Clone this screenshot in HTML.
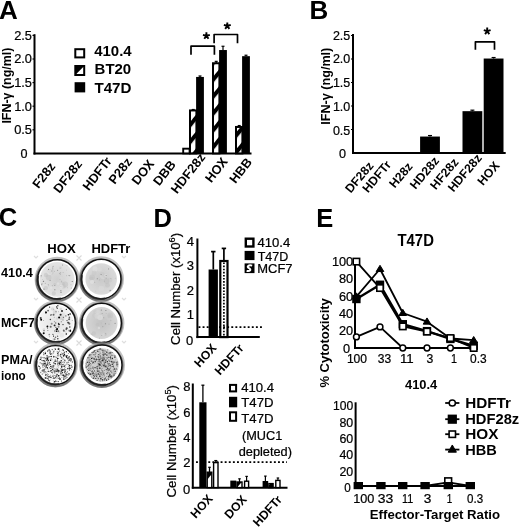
<!DOCTYPE html>
<html><head><meta charset="utf-8"><style>
html,body{margin:0;padding:0;background:#fff;}
svg{display:block;will-change:transform;}
text{font-family:"Liberation Sans", sans-serif;fill:#000;}
text:not([font-weight]){stroke:#000;stroke-width:0.22px;}
</style></head><body>
<svg width="520" height="527" viewBox="0 0 520 527">
<defs>
<pattern id="hatch" patternUnits="userSpaceOnUse" width="10.6" height="10.6" patternTransform="translate(0,3) rotate(-51)">
<rect width="10.6" height="10.6" fill="#fff"/><rect width="10.6" height="4.0" fill="#000"/></pattern>
<pattern id="hatch2" patternUnits="userSpaceOnUse" width="14" height="14" patternTransform="rotate(-50)">
<rect width="14" height="14" fill="#fff"/><rect width="14" height="5" fill="#000"/></pattern>
</defs>
<rect width="520" height="527" fill="#fff"/>
<text x="-1.0" y="18.8" font-size="26" font-weight="bold" text-anchor="start">A</text>
<line x1="34.5" y1="34.2" x2="34.5" y2="154.5" stroke="#000" stroke-width="2"/>
<line x1="33.5" y1="153.5" x2="251.5" y2="153.5" stroke="#000" stroke-width="2"/>
<line x1="32.5" y1="35.400000000000006" x2="34.5" y2="35.400000000000006" stroke="#000" stroke-width="1.2"/>
<text x="32" y="39.800000000000004" font-size="12.6" text-anchor="end" textLength="17.8" lengthAdjust="spacingAndGlyphs">2.5</text>
<line x1="32.5" y1="59.0" x2="34.5" y2="59.0" stroke="#000" stroke-width="1.2"/>
<text x="32" y="63.4" font-size="12.6" text-anchor="end" textLength="17.8" lengthAdjust="spacingAndGlyphs">2.0</text>
<line x1="32.5" y1="82.6" x2="34.5" y2="82.6" stroke="#000" stroke-width="1.2"/>
<text x="32" y="87.0" font-size="12.6" text-anchor="end" textLength="17.8" lengthAdjust="spacingAndGlyphs">1.5</text>
<line x1="32.5" y1="106.2" x2="34.5" y2="106.2" stroke="#000" stroke-width="1.2"/>
<text x="32" y="110.60000000000001" font-size="12.6" text-anchor="end" textLength="17.8" lengthAdjust="spacingAndGlyphs">1.0</text>
<line x1="32.5" y1="129.8" x2="34.5" y2="129.8" stroke="#000" stroke-width="1.2"/>
<text x="32" y="134.20000000000002" font-size="12.6" text-anchor="end" textLength="17.8" lengthAdjust="spacingAndGlyphs">0.5</text>
<text x="27.6" y="157.8" font-size="12.6" text-anchor="end">0</text>
<text transform="translate(11.1,85.6) rotate(-90)" font-size="12" font-weight="bold" text-anchor="middle" textLength="76" lengthAdjust="spacingAndGlyphs">IFN-&#947; (ng/ml)</text>
<rect x="75.3" y="49.2" width="8.9" height="8.2" fill="#fff" stroke="#000" stroke-width="2"/>
<path d="M75.3,66 h8.9 v8.9 h-8.9 z" fill="#fff" stroke="#000" stroke-width="2"/>
<path d="M75.3,66 h8.9 L75.3,74.9 z" fill="#000"/>
<rect x="74.6" y="82.2" width="10.6" height="10.2" fill="#000"/>
<text x="94.2" y="55.6" font-size="14" font-weight="bold" text-anchor="start" textLength="37.5" lengthAdjust="spacingAndGlyphs">410.4</text>
<text x="94.6" y="73.8" font-size="14" font-weight="bold" text-anchor="start" textLength="36.6" lengthAdjust="spacingAndGlyphs">BT20</text>
<text x="94.4" y="93.3" font-size="14" font-weight="bold" text-anchor="start" textLength="37" lengthAdjust="spacingAndGlyphs">T47D</text>
<rect x="183.2" y="148.68" width="6.3999999999999995" height="4.719999999999999" fill="#fff" stroke="#000" stroke-width="1.9"/>
<rect x="190.0" y="110.44800000000001" width="6.3999999999999995" height="42.952" fill="url(#hatch)" stroke="#000" stroke-width="2.0"/>
<line x1="193.20000000000002" y1="110.44800000000001" x2="193.20000000000002" y2="109.50399999999999" stroke="#000" stroke-width="1.2"/>
<line x1="191.70000000000002" y1="109.50399999999999" x2="194.70000000000002" y2="109.50399999999999" stroke="#000" stroke-width="1.2"/>
<rect x="196.1" y="76.93599999999999" width="7.8" height="76.96400000000001" fill="#000"/>
<line x1="200.0" y1="76.93599999999999" x2="200.0" y2="75.992" stroke="#000" stroke-width="1.2"/>
<line x1="198.5" y1="75.992" x2="201.5" y2="75.992" stroke="#000" stroke-width="1.2"/>
<rect x="213.0" y="63.248000000000005" width="6.3999999999999995" height="90.152" fill="url(#hatch)" stroke="#000" stroke-width="2.0"/>
<line x1="216.20000000000002" y1="63.248000000000005" x2="216.20000000000002" y2="61.36" stroke="#000" stroke-width="1.2"/>
<line x1="214.70000000000002" y1="61.36" x2="217.70000000000002" y2="61.36" stroke="#000" stroke-width="1.2"/>
<rect x="219.1" y="50.032" width="7.8" height="103.86800000000001" fill="#000"/>
<line x1="223.0" y1="50.032" x2="223.0" y2="46.256" stroke="#000" stroke-width="1.2"/>
<line x1="221.5" y1="46.256" x2="224.5" y2="46.256" stroke="#000" stroke-width="1.2"/>
<rect x="236.0" y="126.968" width="6.3999999999999995" height="26.432000000000002" fill="url(#hatch)" stroke="#000" stroke-width="2.0"/>
<line x1="239.20000000000002" y1="126.968" x2="239.20000000000002" y2="125.552" stroke="#000" stroke-width="1.2"/>
<line x1="237.70000000000002" y1="125.552" x2="240.70000000000002" y2="125.552" stroke="#000" stroke-width="1.2"/>
<rect x="242.1" y="56.16799999999999" width="7.8" height="97.73200000000001" fill="#000"/>
<line x1="246.0" y1="56.16799999999999" x2="246.0" y2="55.22399999999999" stroke="#000" stroke-width="1.2"/>
<line x1="244.5" y1="55.22399999999999" x2="247.5" y2="55.22399999999999" stroke="#000" stroke-width="1.2"/>
<path d="M191.0,54.8 V46.2 H214.4 V54.8" stroke="#000" stroke-width="1.7" fill="none" stroke-linejoin="round"/>
<path d="M214.1,43.3 V34.5 H237.5 V43.3" stroke="#000" stroke-width="1.7" fill="none" stroke-linejoin="round"/>
<path d="M206.40,35.90 L206.40,32.30 M206.40,35.90 L209.82,34.79 M206.40,35.90 L208.52,38.81 M206.40,35.90 L204.28,38.81 M206.40,35.90 L202.98,34.79 " stroke="#000" stroke-width="1.9" stroke-linecap="butt" fill="none"/>
<path d="M227.30,26.00 L227.30,22.40 M227.30,26.00 L230.72,24.89 M227.30,26.00 L229.42,28.91 M227.30,26.00 L225.18,28.91 M227.30,26.00 L223.88,24.89 " stroke="#000" stroke-width="1.9" stroke-linecap="butt" fill="none"/>
<text transform="translate(43.6,175.1) rotate(-52)" font-size="12.8" font-weight="bold" text-anchor="middle" dy="4.6">F28z</text>
<text transform="translate(67.5,176.2) rotate(-52)" font-size="12.8" font-weight="bold" text-anchor="middle" dy="4.6">DF28z</text>
<text transform="translate(96.9,173.5) rotate(-52)" font-size="12.8" font-weight="bold" text-anchor="middle" dy="4.6">HDFTr</text>
<text transform="translate(120,170.6) rotate(-52)" font-size="12.8" font-weight="bold" text-anchor="middle" dy="4.6">P28z</text>
<text transform="translate(142.6,172) rotate(-52)" font-size="12.8" font-weight="bold" text-anchor="middle" dy="4.6">DOX</text>
<text transform="translate(164.2,172.7) rotate(-52)" font-size="12.8" font-weight="bold" text-anchor="middle" dy="4.6">DBB</text>
<text transform="translate(187.9,173.2) rotate(-52)" font-size="12.8" font-weight="bold" text-anchor="middle" dy="4.6">HDF28z</text>
<text transform="translate(216.2,169.8) rotate(-52)" font-size="12.8" font-weight="bold" text-anchor="middle" dy="4.6">HOX</text>
<text transform="translate(240.4,170.4) rotate(-52)" font-size="12.8" font-weight="bold" text-anchor="middle" dy="4.6">HBB</text>
<text x="309.6" y="18.8" font-size="26" font-weight="bold" text-anchor="start">B</text>
<line x1="353" y1="34" x2="353" y2="154" stroke="#000" stroke-width="2"/>
<line x1="352" y1="153.0" x2="505.7" y2="153.0" stroke="#000" stroke-width="2"/>
<line x1="351" y1="35.5" x2="353" y2="35.5" stroke="#000" stroke-width="1.2"/>
<text x="350.3" y="39.6" font-size="12.6" text-anchor="end" textLength="17.4" lengthAdjust="spacingAndGlyphs">2.5</text>
<line x1="351" y1="59.0" x2="353" y2="59.0" stroke="#000" stroke-width="1.2"/>
<text x="350.3" y="63.35" font-size="12.6" text-anchor="end" textLength="17.4" lengthAdjust="spacingAndGlyphs">2.0</text>
<line x1="351" y1="82.5" x2="353" y2="82.5" stroke="#000" stroke-width="1.2"/>
<text x="350.3" y="87.1" font-size="12.6" text-anchor="end" textLength="17.4" lengthAdjust="spacingAndGlyphs">1.5</text>
<line x1="351" y1="106.0" x2="353" y2="106.0" stroke="#000" stroke-width="1.2"/>
<text x="350.3" y="110.85" font-size="12.6" text-anchor="end" textLength="17.4" lengthAdjust="spacingAndGlyphs">1.0</text>
<line x1="351" y1="129.5" x2="353" y2="129.5" stroke="#000" stroke-width="1.2"/>
<text x="350.3" y="134.6" font-size="12.6" text-anchor="end" textLength="17.4" lengthAdjust="spacingAndGlyphs">0.5</text>
<text x="345.9" y="158.0" font-size="12.6" text-anchor="end">0</text>
<text transform="translate(329.6,86.2) rotate(-90)" font-size="12" font-weight="bold" text-anchor="middle" textLength="77" lengthAdjust="spacingAndGlyphs">IFN-&#947; (ng/ml)</text>
<rect x="420.1" y="136.55" width="19.8" height="16.44999999999999" fill="#000"/>
<line x1="430.0" y1="136.55" x2="430.0" y2="135.55" stroke="#000" stroke-width="1.2"/>
<line x1="428.0" y1="135.55" x2="432.0" y2="135.55" stroke="#000" stroke-width="1.2"/>
<rect x="462.5" y="111.17" width="19.8" height="41.83" fill="#000"/>
<line x1="472.4" y1="111.17" x2="472.4" y2="110.17" stroke="#000" stroke-width="1.2"/>
<line x1="470.4" y1="110.17" x2="474.4" y2="110.17" stroke="#000" stroke-width="1.2"/>
<rect x="483.7" y="58.530000000000015" width="19.8" height="94.46999999999998" fill="#000"/>
<line x1="493.59999999999997" y1="58.530000000000015" x2="493.59999999999997" y2="57.530000000000015" stroke="#000" stroke-width="1.2"/>
<line x1="491.59999999999997" y1="57.530000000000015" x2="495.59999999999997" y2="57.530000000000015" stroke="#000" stroke-width="1.2"/>
<path d="M475.4,49.7 V41.8 H494.5 V49.7" stroke="#000" stroke-width="1.7" fill="none" stroke-linejoin="round"/>
<path d="M487.20,31.20 L487.20,27.60 M487.20,31.20 L490.62,30.09 M487.20,31.20 L489.32,34.11 M487.20,31.20 L485.08,34.11 M487.20,31.20 L483.78,30.09 " stroke="#000" stroke-width="1.9" stroke-linecap="butt" fill="none"/>
<text transform="translate(359.1,177.1) rotate(-50)" font-size="12.3" font-weight="bold" text-anchor="middle" dy="4.4">DF28z</text>
<text transform="translate(376.6,176.5) rotate(-50)" font-size="12.3" font-weight="bold" text-anchor="middle" dy="4.4">HDFTr</text>
<text transform="translate(400.7,175.0) rotate(-50)" font-size="12.3" font-weight="bold" text-anchor="middle" dy="4.4">H28z</text>
<text transform="translate(424.3,172.7) rotate(-50)" font-size="12.3" font-weight="bold" text-anchor="middle" dy="4.4">HD28z</text>
<text transform="translate(444.1,173.7) rotate(-50)" font-size="12.3" font-weight="bold" text-anchor="middle" dy="4.4">HF28z</text>
<text transform="translate(464.5,172.7) rotate(-50)" font-size="12.3" font-weight="bold" text-anchor="middle" dy="4.4">HDF28z</text>
<text transform="translate(488.3,173.3) rotate(-50)" font-size="12.3" font-weight="bold" text-anchor="middle" dy="4.4">HOX</text>
<text x="-1.2" y="226.4" font-size="25.5" font-weight="bold" text-anchor="start">C</text>
<text x="47.3" y="253.3" font-size="12" font-weight="bold" text-anchor="start" textLength="28.4" lengthAdjust="spacingAndGlyphs">HOX</text>
<text x="91.4" y="252.9" font-size="12" font-weight="bold" text-anchor="start" textLength="39" lengthAdjust="spacingAndGlyphs">HDFTr</text>
<text x="1" y="277.3" font-size="12.5" font-weight="bold" text-anchor="start" textLength="31.8" lengthAdjust="spacingAndGlyphs">410.4</text>
<text x="1" y="326.7" font-size="12.5" font-weight="bold" text-anchor="start" textLength="33.8" lengthAdjust="spacingAndGlyphs">MCF7</text>
<text x="1" y="363.7" font-size="12.5" font-weight="bold" text-anchor="start" textLength="31.5" lengthAdjust="spacingAndGlyphs">PMA/</text>
<text x="1" y="379.8" font-size="12.5" font-weight="bold" text-anchor="start" textLength="24.8" lengthAdjust="spacingAndGlyphs">iono</text>
<g stroke="#d0d0d0" stroke-width="1.1" fill="none">
<path d="M76.5,255.5 L79,258 L81.5,255.5 M76.5,260.5 L79,258 L81.5,260.5" opacity="0.8"/>
<path d="M76.5,297.5 L79,300 L81.5,297.5 M76.5,302.5 L79,300 L81.5,302.5" opacity="0.8"/>
<path d="M76.5,340.5 L79,343 L81.5,340.5 M76.5,345.5 L79,343 L81.5,345.5" opacity="0.8"/>
<path d="M34,256 L36,258 L38,256" opacity="0.7"/>
<path d="M34,298 L36,300 L38,298" opacity="0.7"/>
<path d="M34,341 L36,343 L38,341" opacity="0.7"/>
<path d="M122,256 L124,258 L126,256" opacity="0.7"/>
<path d="M122,298 L124,300 L126,298" opacity="0.7"/>
<path d="M122,341 L124,343 L126,341" opacity="0.7"/>
</g>
<radialGradient id="ga"><stop offset="0" stop-color="#cfcfcf"/><stop offset="1" stop-color="#e4e4e4"/></radialGradient>
<circle cx="57.2" cy="279.4" r="21.5" fill="none" stroke="#9a9a9a" stroke-width="2.2" opacity="0.6"/>
<circle cx="56.900000000000006" cy="280.4" r="20.5" fill="none" stroke="#555" stroke-width="2.0" opacity="0.7"/>
<circle cx="57.2" cy="279.4" r="19.6" fill="#fff" stroke="#111" stroke-width="1.45"/>
<circle cx="57.2" cy="279.4" r="17.35" fill="url(#ga)"/>
<circle cx="54.7" cy="284.4" r="1.3" fill="#c0c0c0" opacity="0.5"/>
<circle cx="48.6" cy="277.4" r="2.8" fill="#c0c0c0" opacity="0.5"/>
<circle cx="58.1" cy="283.6" r="1.3" fill="#e8e8e8" opacity="0.5"/>
<circle cx="65.2" cy="284.5" r="2.9" fill="#c0c0c0" opacity="0.5"/>
<circle cx="49.6" cy="271.3" r="2.2" fill="#c0c0c0" opacity="0.5"/>
<circle cx="45.8" cy="288.1" r="2.2" fill="#c0c0c0" opacity="0.5"/>
<circle cx="63.5" cy="286.4" r="2.2" fill="#c0c0c0" opacity="0.5"/>
<circle cx="46.1" cy="275.0" r="2.2" fill="#c0c0c0" opacity="0.5"/>
<circle cx="51.5" cy="272.6" r="2.2" fill="#c0c0c0" opacity="0.5"/>
<circle cx="49.7" cy="272.4" r="2.6" fill="#e8e8e8" opacity="0.5"/>
<circle cx="43.6" cy="282.4" r="1.7" fill="#dcdcdc" opacity="0.5"/>
<circle cx="60.5" cy="267.7" r="1.3" fill="#c8c8c8" opacity="0.5"/>
<circle cx="54.0" cy="289.1" r="2.5" fill="#dcdcdc" opacity="0.5"/>
<circle cx="53.8" cy="293.4" r="2.1" fill="#c0c0c0" opacity="0.5"/>
<circle cx="61.5" cy="286.7" r="2.0" fill="#e8e8e8" opacity="0.5"/>
<circle cx="61.1" cy="278.4" r="1.8" fill="#dcdcdc" opacity="0.5"/>
<circle cx="51.2" cy="287.7" r="1.3" fill="#e8e8e8" opacity="0.5"/>
<circle cx="63.5" cy="283.6" r="1.3" fill="#c0c0c0" opacity="0.5"/>
<circle cx="53.1" cy="266.4" r="0.60" fill="#aaa"/>
<circle cx="54.9" cy="289.7" r="0.50" fill="#666"/>
<circle cx="66.6" cy="275.7" r="0.48" fill="#aaa"/>
<circle cx="71.0" cy="284.8" r="0.34" fill="#888"/>
<circle cx="44.2" cy="289.1" r="0.45" fill="#888"/>
<circle cx="45.3" cy="283.3" r="0.57" fill="#aaa"/>
<circle cx="63.1" cy="272.7" r="0.42" fill="#999"/>
<circle cx="52.9" cy="269.9" r="0.37" fill="#666"/>
<circle cx="60.9" cy="286.7" r="0.37" fill="#aaa"/>
<circle cx="60.7" cy="273.1" r="0.38" fill="#888"/>
<circle cx="48.2" cy="284.4" r="0.47" fill="#888"/>
<circle cx="52.8" cy="268.1" r="0.49" fill="#666"/>
<circle cx="42.0" cy="283.7" r="0.59" fill="#aaa"/>
<circle cx="48.7" cy="285.8" r="0.44" fill="#aaa"/>
<circle cx="61.3" cy="281.1" r="0.36" fill="#888"/>
<circle cx="67.3" cy="287.8" r="0.33" fill="#888"/>
<circle cx="41.1" cy="275.6" r="0.48" fill="#666"/>
<circle cx="66.6" cy="270.0" r="0.34" fill="#999"/>
<circle cx="69.8" cy="275.8" r="0.44" fill="#666"/>
<circle cx="67.0" cy="265.7" r="0.44" fill="#aaa"/>
<circle cx="54.8" cy="285.4" r="0.52" fill="#999"/>
<circle cx="43.2" cy="281.3" r="0.45" fill="#888"/>
<circle cx="68.9" cy="275.7" r="0.34" fill="#666"/>
<circle cx="57.7" cy="270.2" r="0.49" fill="#666"/>
<circle cx="54.3" cy="271.2" r="0.41" fill="#888"/>
<circle cx="52.3" cy="285.7" r="0.46" fill="#999"/>
<circle cx="48.5" cy="269.4" r="0.54" fill="#888"/>
<circle cx="62.5" cy="265.0" r="0.52" fill="#888"/>
<circle cx="60.9" cy="290.7" r="0.52" fill="#666"/>
<circle cx="60.1" cy="268.1" r="0.36" fill="#999"/>
<circle cx="41.7" cy="284.7" r="0.60" fill="#999"/>
<circle cx="61.9" cy="282.0" r="0.44" fill="#999"/>
<circle cx="61.0" cy="292.2" r="0.57" fill="#666"/>
<circle cx="43.6" cy="281.2" r="0.54" fill="#666"/>
<circle cx="60.2" cy="274.3" r="0.42" fill="#888"/>
<circle cx="50.1" cy="280.4" r="0.54" fill="#999"/>
<circle cx="71.3" cy="287.9" r="0.52" fill="#aaa"/>
<circle cx="43.8" cy="289.0" r="0.52" fill="#888"/>
<circle cx="60.0" cy="279.3" r="0.48" fill="#aaa"/>
<circle cx="59.5" cy="273.3" r="0.55" fill="#aaa"/>
<circle cx="51.7" cy="271.0" r="0.46" fill="#888"/>
<circle cx="72.2" cy="281.4" r="0.52" fill="#666"/>
<circle cx="41.1" cy="276.7" r="0.43" fill="#888"/>
<circle cx="60.8" cy="272.5" r="0.38" fill="#999"/>
<circle cx="42.4" cy="279.3" r="0.40" fill="#aaa"/>
<path d="M38.0,275.5 A19.6,19.6 0 0 0 61.1,298.6" fill="none" stroke="#222" stroke-width="2.2" opacity="0.8"/>
<radialGradient id="gb"><stop offset="0" stop-color="#c9c9c9"/><stop offset="1" stop-color="#dadada"/></radialGradient>
<circle cx="101.2" cy="279.1" r="21.7" fill="none" stroke="#9a9a9a" stroke-width="2.2" opacity="0.6"/>
<circle cx="100.9" cy="280.1" r="20.7" fill="none" stroke="#555" stroke-width="2.0" opacity="0.7"/>
<circle cx="101.2" cy="279.1" r="19.8" fill="#fff" stroke="#111" stroke-width="1.45"/>
<circle cx="101.2" cy="279.1" r="15.75" fill="url(#gb)"/>
<circle cx="102.8" cy="276.3" r="2.8" fill="#dcdcdc" opacity="0.5"/>
<circle cx="95.0" cy="269.0" r="2.7" fill="#e8e8e8" opacity="0.5"/>
<circle cx="104.6" cy="275.8" r="2.1" fill="#c8c8c8" opacity="0.5"/>
<circle cx="109.9" cy="280.1" r="2.3" fill="#c8c8c8" opacity="0.5"/>
<circle cx="102.0" cy="274.1" r="2.1" fill="#c8c8c8" opacity="0.5"/>
<circle cx="99.7" cy="269.4" r="2.4" fill="#dcdcdc" opacity="0.5"/>
<circle cx="92.2" cy="277.3" r="2.8" fill="#c0c0c0" opacity="0.5"/>
<circle cx="106.6" cy="281.1" r="2.6" fill="#c0c0c0" opacity="0.5"/>
<circle cx="91.3" cy="278.6" r="2.0" fill="#c0c0c0" opacity="0.5"/>
<circle cx="94.1" cy="273.0" r="2.4" fill="#c8c8c8" opacity="0.5"/>
<circle cx="92.0" cy="281.9" r="2.1" fill="#e8e8e8" opacity="0.5"/>
<circle cx="101.3" cy="288.6" r="2.9" fill="#dcdcdc" opacity="0.5"/>
<circle cx="105.8" cy="275.4" r="1.4" fill="#e8e8e8" opacity="0.5"/>
<circle cx="107.5" cy="285.2" r="2.4" fill="#c0c0c0" opacity="0.5"/>
<circle cx="94.8" cy="282.2" r="0.38" fill="#888"/>
<circle cx="106.0" cy="275.5" r="0.48" fill="#999"/>
<circle cx="110.2" cy="290.4" r="0.54" fill="#888"/>
<circle cx="101.1" cy="274.4" r="0.52" fill="#888"/>
<circle cx="115.2" cy="278.2" r="0.34" fill="#999"/>
<circle cx="110.9" cy="278.7" r="0.41" fill="#999"/>
<circle cx="95.8" cy="291.0" r="0.30" fill="#999"/>
<circle cx="99.3" cy="279.9" r="0.38" fill="#999"/>
<circle cx="97.3" cy="278.8" r="0.55" fill="#888"/>
<circle cx="106.1" cy="278.2" r="0.37" fill="#888"/>
<circle cx="106.6" cy="275.5" r="0.49" fill="#999"/>
<circle cx="108.6" cy="268.9" r="0.54" fill="#999"/>
<circle cx="109.9" cy="291.0" r="0.44" fill="#999"/>
<circle cx="104.3" cy="281.1" r="0.47" fill="#999"/>
<path d="M81.8,275.1 A19.8,19.8 0 0 0 105.2,298.5" fill="none" stroke="#222" stroke-width="2.2" opacity="0.8"/>
<radialGradient id="gc"><stop offset="0" stop-color="#e2e2e2"/><stop offset="1" stop-color="#f4f4f4"/></radialGradient>
<circle cx="56.0" cy="322.6" r="21.299999999999997" fill="none" stroke="#9a9a9a" stroke-width="2.2" opacity="0.6"/>
<circle cx="55.7" cy="323.6" r="20.299999999999997" fill="none" stroke="#555" stroke-width="2.0" opacity="0.7"/>
<circle cx="56.0" cy="322.6" r="19.4" fill="#fff" stroke="#111" stroke-width="1.45"/>
<circle cx="56.0" cy="322.6" r="17.349999999999998" fill="url(#gc)"/>
<circle cx="62.0" cy="318.0" r="2.3" fill="#c0c0c0" opacity="0.5"/>
<circle cx="57.3" cy="318.6" r="1.3" fill="#c8c8c8" opacity="0.5"/>
<circle cx="62.4" cy="315.2" r="3.0" fill="#dcdcdc" opacity="0.5"/>
<circle cx="43.9" cy="329.5" r="1.3" fill="#c8c8c8" opacity="0.5"/>
<circle cx="52.5" cy="309.0" r="1.7" fill="#c8c8c8" opacity="0.5"/>
<circle cx="61.9" cy="335.3" r="2.2" fill="#dcdcdc" opacity="0.5"/>
<circle cx="58.7" cy="331.9" r="1.7" fill="#c8c8c8" opacity="0.5"/>
<circle cx="60.8" cy="308.9" r="1.2" fill="#c0c0c0" opacity="0.5"/>
<circle cx="54.9" cy="311.9" r="2.1" fill="#c8c8c8" opacity="0.5"/>
<circle cx="56.3" cy="332.3" r="2.4" fill="#e8e8e8" opacity="0.5"/>
<circle cx="40.7" cy="318.1" r="1.03" fill="#444"/>
<circle cx="49.6" cy="307.1" r="0.62" fill="#222"/>
<circle cx="47.7" cy="328.2" r="0.44" fill="#222"/>
<circle cx="69.4" cy="323.8" r="0.97" fill="#666"/>
<circle cx="58.6" cy="326.8" r="0.95" fill="#888"/>
<circle cx="51.7" cy="314.7" r="0.56" fill="#444"/>
<circle cx="63.0" cy="324.6" r="0.57" fill="#000"/>
<circle cx="54.6" cy="339.2" r="1.03" fill="#888"/>
<circle cx="54.6" cy="325.4" r="0.97" fill="#222"/>
<circle cx="55.7" cy="323.0" r="0.65" fill="#666"/>
<circle cx="53.5" cy="336.1" r="0.56" fill="#000"/>
<circle cx="68.9" cy="330.9" r="0.49" fill="#888"/>
<circle cx="58.5" cy="323.3" r="0.60" fill="#222"/>
<circle cx="70.3" cy="331.0" r="0.95" fill="#222"/>
<circle cx="48.1" cy="310.6" r="0.97" fill="#666"/>
<circle cx="57.3" cy="308.3" r="0.72" fill="#444"/>
<circle cx="53.8" cy="309.2" r="0.43" fill="#888"/>
<circle cx="45.9" cy="312.2" r="0.93" fill="#222"/>
<circle cx="68.4" cy="314.7" r="0.77" fill="#000"/>
<circle cx="62.0" cy="311.1" r="0.98" fill="#222"/>
<circle cx="59.0" cy="324.4" r="0.81" fill="#000"/>
<circle cx="47.9" cy="330.6" r="0.43" fill="#000"/>
<circle cx="46.2" cy="312.6" r="0.72" fill="#000"/>
<circle cx="51.7" cy="323.8" r="1.01" fill="#888"/>
<circle cx="66.3" cy="329.3" r="0.88" fill="#666"/>
<circle cx="55.9" cy="327.2" r="0.57" fill="#222"/>
<circle cx="57.6" cy="336.2" r="0.70" fill="#666"/>
<circle cx="70.3" cy="330.1" r="0.59" fill="#000"/>
<circle cx="45.9" cy="313.5" r="0.45" fill="#222"/>
<circle cx="49.3" cy="334.5" r="0.85" fill="#888"/>
<circle cx="54.3" cy="321.8" r="0.44" fill="#444"/>
<circle cx="61.3" cy="321.7" r="0.54" fill="#666"/>
<circle cx="52.9" cy="334.4" r="0.70" fill="#666"/>
<circle cx="57.8" cy="305.8" r="0.76" fill="#444"/>
<circle cx="72.2" cy="320.4" r="0.41" fill="#666"/>
<circle cx="66.7" cy="328.2" r="1.05" fill="#444"/>
<circle cx="43.7" cy="333.2" r="1.00" fill="#000"/>
<circle cx="50.4" cy="319.5" r="0.74" fill="#444"/>
<circle cx="66.3" cy="334.0" r="0.73" fill="#000"/>
<circle cx="53.6" cy="314.8" r="0.98" fill="#666"/>
<circle cx="50.7" cy="326.8" r="1.02" fill="#666"/>
<circle cx="44.0" cy="330.7" r="0.67" fill="#666"/>
<circle cx="49.7" cy="336.8" r="0.40" fill="#444"/>
<circle cx="59.1" cy="317.6" r="1.00" fill="#000"/>
<circle cx="63.4" cy="317.3" r="0.64" fill="#666"/>
<circle cx="43.8" cy="332.7" r="0.45" fill="#666"/>
<circle cx="56.6" cy="306.9" r="0.58" fill="#000"/>
<circle cx="60.6" cy="314.8" r="1.01" fill="#222"/>
<circle cx="67.0" cy="320.6" r="0.61" fill="#444"/>
<circle cx="58.4" cy="311.8" r="0.42" fill="#666"/>
<circle cx="70.1" cy="314.1" r="0.76" fill="#000"/>
<circle cx="69.8" cy="327.0" r="0.69" fill="#222"/>
<circle cx="50.4" cy="315.5" r="0.43" fill="#888"/>
<circle cx="64.1" cy="331.0" r="0.62" fill="#444"/>
<circle cx="55.5" cy="337.2" r="0.82" fill="#666"/>
<circle cx="50.8" cy="314.9" r="0.76" fill="#666"/>
<circle cx="65.9" cy="331.9" r="0.45" fill="#888"/>
<circle cx="65.9" cy="315.9" r="0.54" fill="#444"/>
<circle cx="67.4" cy="322.3" r="0.49" fill="#222"/>
<circle cx="56.3" cy="329.7" r="0.76" fill="#444"/>
<circle cx="56.6" cy="331.2" r="0.77" fill="#000"/>
<circle cx="56.0" cy="311.7" r="0.67" fill="#888"/>
<circle cx="58.2" cy="331.1" r="0.89" fill="#666"/>
<circle cx="53.1" cy="339.0" r="0.48" fill="#888"/>
<circle cx="41.2" cy="319.8" r="0.95" fill="#000"/>
<circle cx="54.9" cy="331.0" r="0.66" fill="#666"/>
<circle cx="47.4" cy="326.5" r="0.93" fill="#000"/>
<circle cx="63.7" cy="330.5" r="0.90" fill="#666"/>
<circle cx="67.6" cy="320.3" r="0.45" fill="#888"/>
<circle cx="66.3" cy="309.4" r="0.56" fill="#000"/>
<circle cx="57.1" cy="329.1" r="1.03" fill="#000"/>
<circle cx="69.4" cy="317.4" r="0.82" fill="#666"/>
<circle cx="68.9" cy="330.2" r="0.40" fill="#222"/>
<circle cx="57.8" cy="338.8" r="0.82" fill="#444"/>
<circle cx="69.0" cy="319.5" r="0.74" fill="#666"/>
<circle cx="54.2" cy="317.2" r="0.45" fill="#888"/>
<circle cx="63.0" cy="320.0" r="0.57" fill="#888"/>
<circle cx="68.4" cy="322.7" r="1.05" fill="#444"/>
<circle cx="69.2" cy="319.1" r="0.97" fill="#666"/>
<circle cx="43.6" cy="320.5" r="0.42" fill="#666"/>
<path d="M37.0,318.7 A19.4,19.4 0 0 0 59.9,341.6" fill="none" stroke="#222" stroke-width="2.2" opacity="0.8"/>
<radialGradient id="gd"><stop offset="0" stop-color="#c2c2c2"/><stop offset="1" stop-color="#d6d6d6"/></radialGradient>
<circle cx="101.6" cy="323.0" r="21.7" fill="none" stroke="#9a9a9a" stroke-width="2.2" opacity="0.6"/>
<circle cx="101.3" cy="324.0" r="20.7" fill="none" stroke="#555" stroke-width="2.0" opacity="0.7"/>
<circle cx="101.6" cy="323.0" r="19.8" fill="#fff" stroke="#111" stroke-width="1.45"/>
<circle cx="101.6" cy="323.0" r="15.95" fill="url(#gd)"/>
<circle cx="99.5" cy="315.9" r="1.5" fill="#c0c0c0" opacity="0.5"/>
<circle cx="109.6" cy="315.9" r="1.7" fill="#c0c0c0" opacity="0.5"/>
<circle cx="95.2" cy="311.9" r="2.1" fill="#c8c8c8" opacity="0.5"/>
<circle cx="97.8" cy="312.3" r="2.4" fill="#dcdcdc" opacity="0.5"/>
<circle cx="105.4" cy="334.3" r="1.6" fill="#c0c0c0" opacity="0.5"/>
<circle cx="108.9" cy="321.6" r="1.6" fill="#c8c8c8" opacity="0.5"/>
<circle cx="103.7" cy="334.5" r="1.4" fill="#dcdcdc" opacity="0.5"/>
<circle cx="94.2" cy="315.7" r="2.1" fill="#c8c8c8" opacity="0.5"/>
<circle cx="104.3" cy="321.3" r="2.9" fill="#c8c8c8" opacity="0.5"/>
<circle cx="103.5" cy="323.7" r="1.9" fill="#c8c8c8" opacity="0.5"/>
<circle cx="100.2" cy="317.5" r="2.8" fill="#e8e8e8" opacity="0.5"/>
<circle cx="110.1" cy="315.4" r="2.9" fill="#c0c0c0" opacity="0.5"/>
<circle cx="98.9" cy="328.0" r="1.3" fill="#e8e8e8" opacity="0.5"/>
<circle cx="97.4" cy="315.9" r="3.0" fill="#dcdcdc" opacity="0.5"/>
<circle cx="97.5" cy="324.6" r="1.7" fill="#c0c0c0" opacity="0.5"/>
<circle cx="93.8" cy="333.5" r="2.2" fill="#c0c0c0" opacity="0.5"/>
<circle cx="102.1" cy="313.4" r="0.49" fill="#888"/>
<circle cx="106.1" cy="313.8" r="0.31" fill="#888"/>
<circle cx="105.4" cy="333.8" r="0.41" fill="#888"/>
<circle cx="91.9" cy="334.1" r="0.31" fill="#888"/>
<circle cx="101.8" cy="335.3" r="0.40" fill="#888"/>
<circle cx="105.4" cy="323.8" r="0.53" fill="#888"/>
<circle cx="102.9" cy="326.7" r="0.45" fill="#888"/>
<circle cx="99.5" cy="338.1" r="0.45" fill="#888"/>
<circle cx="101.3" cy="310.1" r="0.53" fill="#888"/>
<circle cx="115.1" cy="323.3" r="0.53" fill="#777"/>
<circle cx="109.0" cy="324.1" r="0.42" fill="#888"/>
<circle cx="110.9" cy="320.2" r="0.36" fill="#888"/>
<circle cx="103.8" cy="317.8" r="0.42" fill="#777"/>
<circle cx="105.9" cy="310.4" r="0.51" fill="#777"/>
<path d="M82.2,319.0 A19.8,19.8 0 0 0 105.6,342.4" fill="none" stroke="#222" stroke-width="2.2" opacity="0.8"/>
<radialGradient id="ge"><stop offset="0" stop-color="#f2f2f2"/><stop offset="1" stop-color="#fafafa"/></radialGradient>
<circle cx="55.6" cy="365.0" r="21.299999999999997" fill="none" stroke="#9a9a9a" stroke-width="2.2" opacity="0.6"/>
<circle cx="55.300000000000004" cy="366.0" r="20.299999999999997" fill="none" stroke="#555" stroke-width="2.0" opacity="0.7"/>
<circle cx="55.6" cy="365.0" r="19.4" fill="#fff" stroke="#111" stroke-width="1.45"/>
<circle cx="55.6" cy="365.0" r="17.549999999999997" fill="url(#ge)"/>
<circle cx="47.9" cy="358.9" r="0.44" fill="#444"/>
<circle cx="58.4" cy="352.1" r="0.53" fill="#666"/>
<circle cx="55.8" cy="356.5" r="0.33" fill="#000"/>
<circle cx="43.0" cy="366.5" r="0.37" fill="#666"/>
<circle cx="68.3" cy="353.6" r="0.42" fill="#000"/>
<circle cx="58.5" cy="375.7" r="0.74" fill="#666"/>
<circle cx="58.5" cy="370.5" r="0.51" fill="#222"/>
<circle cx="55.4" cy="349.2" r="0.60" fill="#000"/>
<circle cx="57.3" cy="355.9" r="0.43" fill="#444"/>
<circle cx="45.3" cy="375.6" r="0.39" fill="#222"/>
<circle cx="58.9" cy="372.7" r="0.43" fill="#888"/>
<circle cx="57.3" cy="369.0" r="0.41" fill="#222"/>
<circle cx="47.4" cy="364.6" r="0.66" fill="#666"/>
<circle cx="61.1" cy="364.7" r="0.51" fill="#222"/>
<circle cx="64.4" cy="351.2" r="0.32" fill="#444"/>
<circle cx="56.0" cy="368.8" r="0.57" fill="#888"/>
<circle cx="57.2" cy="369.4" r="0.53" fill="#222"/>
<circle cx="47.3" cy="367.7" r="0.65" fill="#000"/>
<circle cx="66.0" cy="373.2" r="0.58" fill="#222"/>
<circle cx="65.3" cy="367.3" r="0.32" fill="#444"/>
<circle cx="69.9" cy="368.5" r="0.71" fill="#000"/>
<circle cx="60.2" cy="355.0" r="0.47" fill="#888"/>
<circle cx="52.7" cy="372.2" r="0.66" fill="#888"/>
<circle cx="44.7" cy="366.1" r="0.66" fill="#888"/>
<circle cx="62.7" cy="375.3" r="0.59" fill="#666"/>
<circle cx="51.9" cy="354.7" r="0.43" fill="#444"/>
<circle cx="52.2" cy="366.9" r="0.64" fill="#444"/>
<circle cx="53.6" cy="366.2" r="0.64" fill="#444"/>
<circle cx="49.0" cy="356.6" r="0.48" fill="#000"/>
<circle cx="49.4" cy="367.7" r="0.35" fill="#000"/>
<circle cx="42.2" cy="374.0" r="0.51" fill="#222"/>
<circle cx="58.3" cy="367.8" r="0.36" fill="#666"/>
<circle cx="67.1" cy="372.2" r="0.47" fill="#888"/>
<circle cx="60.4" cy="373.9" r="0.37" fill="#222"/>
<circle cx="60.6" cy="362.4" r="0.52" fill="#222"/>
<circle cx="50.6" cy="379.9" r="0.32" fill="#666"/>
<circle cx="50.3" cy="377.3" r="0.59" fill="#000"/>
<circle cx="66.7" cy="357.4" r="0.67" fill="#222"/>
<circle cx="45.5" cy="352.7" r="0.58" fill="#888"/>
<circle cx="64.5" cy="352.2" r="0.38" fill="#222"/>
<circle cx="71.6" cy="369.3" r="0.37" fill="#444"/>
<circle cx="61.7" cy="371.0" r="0.63" fill="#222"/>
<circle cx="68.0" cy="368.3" r="0.64" fill="#000"/>
<circle cx="50.8" cy="356.5" r="0.48" fill="#666"/>
<circle cx="42.7" cy="360.8" r="0.44" fill="#666"/>
<circle cx="52.5" cy="373.0" r="0.48" fill="#444"/>
<circle cx="44.9" cy="368.7" r="0.31" fill="#888"/>
<circle cx="67.3" cy="364.0" r="0.50" fill="#888"/>
<circle cx="57.8" cy="353.6" r="0.38" fill="#666"/>
<circle cx="52.0" cy="367.6" r="0.46" fill="#444"/>
<circle cx="65.2" cy="371.2" r="0.53" fill="#000"/>
<circle cx="61.6" cy="366.6" r="0.71" fill="#444"/>
<circle cx="57.7" cy="352.9" r="0.32" fill="#888"/>
<circle cx="66.5" cy="356.5" r="0.65" fill="#000"/>
<circle cx="66.3" cy="351.6" r="0.63" fill="#000"/>
<circle cx="61.5" cy="380.9" r="0.52" fill="#222"/>
<circle cx="49.9" cy="351.6" r="0.40" fill="#444"/>
<circle cx="49.0" cy="359.5" r="0.45" fill="#888"/>
<circle cx="53.2" cy="380.3" r="0.36" fill="#888"/>
<circle cx="67.2" cy="362.4" r="0.57" fill="#888"/>
<circle cx="45.9" cy="364.6" r="0.32" fill="#222"/>
<circle cx="44.4" cy="372.8" r="0.43" fill="#444"/>
<circle cx="61.2" cy="360.7" r="0.65" fill="#000"/>
<circle cx="56.0" cy="361.2" r="0.69" fill="#666"/>
<circle cx="43.3" cy="360.6" r="0.70" fill="#000"/>
<circle cx="55.4" cy="377.6" r="0.69" fill="#444"/>
<circle cx="54.0" cy="382.0" r="0.56" fill="#444"/>
<circle cx="53.2" cy="369.3" r="0.40" fill="#888"/>
<circle cx="55.4" cy="361.2" r="0.67" fill="#444"/>
<circle cx="49.4" cy="380.7" r="0.69" fill="#444"/>
<circle cx="54.0" cy="350.3" r="0.40" fill="#444"/>
<circle cx="47.2" cy="357.5" r="0.53" fill="#000"/>
<circle cx="61.1" cy="371.0" r="0.59" fill="#000"/>
<circle cx="67.8" cy="369.3" r="0.44" fill="#888"/>
<circle cx="50.5" cy="371.3" r="0.56" fill="#888"/>
<circle cx="62.5" cy="372.7" r="0.67" fill="#222"/>
<circle cx="66.6" cy="377.4" r="0.41" fill="#222"/>
<circle cx="51.5" cy="366.3" r="0.37" fill="#444"/>
<circle cx="48.4" cy="370.1" r="0.31" fill="#888"/>
<circle cx="65.9" cy="356.7" r="0.56" fill="#888"/>
<circle cx="69.2" cy="359.3" r="0.41" fill="#000"/>
<circle cx="67.6" cy="368.4" r="0.48" fill="#222"/>
<circle cx="64.4" cy="378.8" r="0.35" fill="#888"/>
<circle cx="39.8" cy="359.8" r="0.36" fill="#222"/>
<circle cx="41.9" cy="363.4" r="0.59" fill="#666"/>
<circle cx="58.4" cy="358.4" r="0.44" fill="#444"/>
<circle cx="43.6" cy="352.8" r="0.63" fill="#666"/>
<circle cx="55.3" cy="363.7" r="0.68" fill="#666"/>
<circle cx="67.7" cy="371.7" r="0.38" fill="#000"/>
<circle cx="54.6" cy="378.7" r="0.36" fill="#444"/>
<circle cx="53.5" cy="356.4" r="0.55" fill="#666"/>
<circle cx="49.1" cy="349.9" r="0.74" fill="#444"/>
<circle cx="45.0" cy="351.9" r="0.40" fill="#888"/>
<circle cx="64.3" cy="365.8" r="0.41" fill="#222"/>
<circle cx="69.5" cy="360.0" r="0.45" fill="#666"/>
<circle cx="51.6" cy="372.4" r="0.71" fill="#888"/>
<circle cx="40.2" cy="368.0" r="0.61" fill="#000"/>
<circle cx="42.1" cy="370.6" r="0.56" fill="#444"/>
<circle cx="58.2" cy="354.6" r="0.56" fill="#888"/>
<circle cx="61.1" cy="361.5" r="0.31" fill="#000"/>
<circle cx="50.6" cy="360.2" r="0.74" fill="#000"/>
<circle cx="61.9" cy="366.2" r="0.59" fill="#000"/>
<circle cx="50.8" cy="351.1" r="0.33" fill="#888"/>
<circle cx="56.2" cy="357.4" r="0.73" fill="#888"/>
<circle cx="59.0" cy="362.2" r="0.69" fill="#666"/>
<circle cx="61.7" cy="369.8" r="0.35" fill="#000"/>
<circle cx="71.1" cy="359.9" r="0.64" fill="#000"/>
<circle cx="61.8" cy="352.9" r="0.43" fill="#000"/>
<circle cx="65.9" cy="376.3" r="0.59" fill="#444"/>
<circle cx="50.9" cy="375.1" r="0.31" fill="#444"/>
<circle cx="59.0" cy="363.4" r="0.64" fill="#444"/>
<circle cx="57.2" cy="351.8" r="0.51" fill="#444"/>
<circle cx="53.4" cy="363.0" r="0.49" fill="#666"/>
<circle cx="50.3" cy="364.4" r="0.51" fill="#000"/>
<circle cx="47.8" cy="363.1" r="0.69" fill="#000"/>
<circle cx="47.4" cy="360.9" r="0.50" fill="#888"/>
<circle cx="60.0" cy="379.3" r="0.74" fill="#000"/>
<circle cx="52.5" cy="369.3" r="0.61" fill="#222"/>
<circle cx="68.5" cy="362.3" r="0.73" fill="#888"/>
<circle cx="54.5" cy="381.6" r="0.43" fill="#222"/>
<circle cx="63.2" cy="361.9" r="0.37" fill="#000"/>
<circle cx="38.6" cy="366.0" r="0.55" fill="#000"/>
<circle cx="48.5" cy="357.6" r="0.48" fill="#666"/>
<circle cx="67.1" cy="355.7" r="0.49" fill="#000"/>
<circle cx="49.1" cy="371.8" r="0.49" fill="#888"/>
<circle cx="45.0" cy="364.9" r="0.70" fill="#222"/>
<circle cx="61.3" cy="362.9" r="0.57" fill="#888"/>
<circle cx="49.5" cy="356.9" r="0.45" fill="#222"/>
<circle cx="63.4" cy="356.5" r="0.55" fill="#444"/>
<circle cx="61.1" cy="374.9" r="0.65" fill="#888"/>
<circle cx="56.8" cy="374.8" r="0.59" fill="#222"/>
<circle cx="46.7" cy="364.6" r="0.64" fill="#888"/>
<circle cx="59.4" cy="370.6" r="0.41" fill="#444"/>
<circle cx="47.5" cy="358.9" r="0.41" fill="#222"/>
<circle cx="54.7" cy="381.7" r="0.75" fill="#222"/>
<circle cx="60.9" cy="363.7" r="0.47" fill="#222"/>
<circle cx="59.7" cy="350.9" r="0.50" fill="#222"/>
<circle cx="68.3" cy="375.4" r="0.43" fill="#666"/>
<circle cx="53.7" cy="365.4" r="0.68" fill="#666"/>
<circle cx="51.4" cy="353.6" r="0.58" fill="#666"/>
<circle cx="64.2" cy="366.2" r="0.63" fill="#000"/>
<circle cx="54.7" cy="348.7" r="0.49" fill="#888"/>
<circle cx="43.8" cy="357.8" r="0.68" fill="#888"/>
<circle cx="64.1" cy="353.7" r="0.59" fill="#666"/>
<circle cx="47.6" cy="368.6" r="0.62" fill="#666"/>
<circle cx="56.1" cy="375.8" r="0.62" fill="#222"/>
<circle cx="55.6" cy="376.2" r="0.50" fill="#888"/>
<circle cx="63.4" cy="355.4" r="0.60" fill="#222"/>
<circle cx="63.3" cy="359.0" r="0.30" fill="#666"/>
<circle cx="60.3" cy="361.9" r="0.41" fill="#222"/>
<circle cx="63.7" cy="377.8" r="0.72" fill="#888"/>
<circle cx="46.5" cy="377.9" r="0.51" fill="#222"/>
<circle cx="53.1" cy="353.0" r="0.59" fill="#444"/>
<circle cx="44.7" cy="363.5" r="0.73" fill="#222"/>
<circle cx="62.9" cy="364.6" r="0.53" fill="#000"/>
<circle cx="53.8" cy="351.7" r="0.59" fill="#444"/>
<circle cx="53.9" cy="375.7" r="0.31" fill="#666"/>
<circle cx="67.3" cy="358.1" r="0.60" fill="#888"/>
<circle cx="54.8" cy="373.1" r="0.63" fill="#888"/>
<circle cx="72.4" cy="362.0" r="0.73" fill="#666"/>
<circle cx="57.1" cy="371.0" r="0.65" fill="#222"/>
<circle cx="43.0" cy="367.5" r="0.40" fill="#222"/>
<circle cx="47.3" cy="375.9" r="0.67" fill="#666"/>
<circle cx="46.5" cy="366.9" r="0.55" fill="#222"/>
<circle cx="57.8" cy="353.5" r="0.65" fill="#222"/>
<circle cx="54.5" cy="375.5" r="0.41" fill="#666"/>
<circle cx="50.5" cy="354.3" r="0.66" fill="#444"/>
<circle cx="46.9" cy="375.8" r="0.44" fill="#666"/>
<circle cx="43.3" cy="370.9" r="0.60" fill="#444"/>
<circle cx="61.0" cy="372.7" r="0.47" fill="#000"/>
<circle cx="63.3" cy="350.6" r="0.65" fill="#222"/>
<circle cx="45.7" cy="363.1" r="0.56" fill="#000"/>
<circle cx="56.8" cy="369.5" r="0.43" fill="#888"/>
<circle cx="60.8" cy="368.9" r="0.41" fill="#666"/>
<circle cx="51.8" cy="370.5" r="0.71" fill="#888"/>
<circle cx="63.6" cy="379.1" r="0.57" fill="#000"/>
<circle cx="47.7" cy="350.9" r="0.65" fill="#444"/>
<circle cx="60.2" cy="378.5" r="0.54" fill="#666"/>
<circle cx="52.8" cy="359.8" r="0.35" fill="#666"/>
<circle cx="56.2" cy="371.4" r="0.52" fill="#000"/>
<circle cx="39.4" cy="366.6" r="0.62" fill="#222"/>
<circle cx="43.0" cy="365.1" r="0.69" fill="#000"/>
<circle cx="60.8" cy="373.2" r="0.61" fill="#666"/>
<circle cx="47.6" cy="351.5" r="0.47" fill="#666"/>
<circle cx="69.7" cy="365.0" r="0.38" fill="#444"/>
<circle cx="53.7" cy="362.8" r="0.57" fill="#444"/>
<circle cx="57.5" cy="360.1" r="0.52" fill="#222"/>
<circle cx="69.8" cy="368.1" r="0.58" fill="#444"/>
<circle cx="67.1" cy="372.8" r="0.45" fill="#888"/>
<circle cx="40.2" cy="359.5" r="0.43" fill="#444"/>
<circle cx="44.3" cy="371.0" r="0.67" fill="#444"/>
<circle cx="48.2" cy="374.5" r="0.45" fill="#444"/>
<circle cx="62.6" cy="357.8" r="0.39" fill="#666"/>
<circle cx="58.2" cy="355.5" r="0.44" fill="#444"/>
<circle cx="67.4" cy="377.2" r="0.34" fill="#000"/>
<circle cx="45.3" cy="372.6" r="0.48" fill="#888"/>
<circle cx="64.5" cy="367.9" r="0.30" fill="#222"/>
<circle cx="60.8" cy="354.4" r="0.64" fill="#000"/>
<circle cx="59.6" cy="349.1" r="0.58" fill="#888"/>
<circle cx="64.1" cy="376.2" r="0.61" fill="#000"/>
<circle cx="58.9" cy="378.6" r="0.51" fill="#222"/>
<circle cx="61.5" cy="369.3" r="0.32" fill="#000"/>
<circle cx="67.5" cy="357.9" r="0.47" fill="#222"/>
<circle cx="58.5" cy="352.5" r="0.42" fill="#444"/>
<circle cx="56.9" cy="367.9" r="0.31" fill="#888"/>
<circle cx="45.2" cy="352.1" r="0.32" fill="#888"/>
<circle cx="40.2" cy="362.8" r="0.65" fill="#666"/>
<circle cx="41.0" cy="357.5" r="0.50" fill="#000"/>
<circle cx="50.0" cy="353.0" r="0.75" fill="#222"/>
<circle cx="44.7" cy="366.7" r="0.35" fill="#666"/>
<circle cx="57.2" cy="371.5" r="0.31" fill="#000"/>
<circle cx="69.6" cy="365.8" r="0.74" fill="#000"/>
<circle cx="56.8" cy="370.9" r="0.51" fill="#444"/>
<circle cx="54.0" cy="356.7" r="0.63" fill="#222"/>
<circle cx="64.8" cy="360.2" r="0.64" fill="#222"/>
<circle cx="55.0" cy="360.1" r="0.58" fill="#666"/>
<circle cx="39.5" cy="369.1" r="0.41" fill="#000"/>
<circle cx="55.2" cy="363.2" r="0.31" fill="#888"/>
<circle cx="64.0" cy="369.6" r="0.63" fill="#222"/>
<circle cx="70.7" cy="360.9" r="0.57" fill="#444"/>
<circle cx="46.8" cy="374.6" r="0.50" fill="#222"/>
<circle cx="65.0" cy="377.1" r="0.46" fill="#222"/>
<circle cx="48.0" cy="356.9" r="0.47" fill="#666"/>
<circle cx="69.9" cy="359.8" r="0.56" fill="#444"/>
<circle cx="53.1" cy="378.3" r="0.59" fill="#888"/>
<circle cx="49.0" cy="376.6" r="0.74" fill="#222"/>
<circle cx="47.9" cy="359.3" r="0.49" fill="#222"/>
<circle cx="45.5" cy="374.9" r="0.57" fill="#222"/>
<circle cx="58.8" cy="356.5" r="0.30" fill="#444"/>
<circle cx="54.8" cy="371.8" r="0.71" fill="#000"/>
<circle cx="54.1" cy="371.2" r="0.70" fill="#888"/>
<circle cx="65.8" cy="378.5" r="0.66" fill="#888"/>
<circle cx="49.1" cy="350.0" r="0.46" fill="#000"/>
<circle cx="44.0" cy="362.0" r="0.47" fill="#222"/>
<circle cx="54.1" cy="368.8" r="0.48" fill="#222"/>
<circle cx="67.3" cy="359.1" r="0.30" fill="#666"/>
<circle cx="50.7" cy="366.3" r="0.66" fill="#000"/>
<circle cx="57.0" cy="378.0" r="0.70" fill="#888"/>
<circle cx="50.3" cy="376.0" r="0.39" fill="#222"/>
<circle cx="58.2" cy="371.8" r="0.62" fill="#444"/>
<circle cx="46.5" cy="360.2" r="0.65" fill="#222"/>
<circle cx="56.0" cy="381.5" r="0.52" fill="#000"/>
<circle cx="47.5" cy="373.4" r="0.34" fill="#444"/>
<circle cx="47.3" cy="359.2" r="0.53" fill="#000"/>
<circle cx="62.0" cy="369.3" r="0.69" fill="#888"/>
<circle cx="42.7" cy="366.1" r="0.42" fill="#444"/>
<circle cx="40.7" cy="372.5" r="0.65" fill="#888"/>
<circle cx="64.0" cy="363.0" r="0.32" fill="#222"/>
<circle cx="66.1" cy="364.6" r="0.31" fill="#000"/>
<circle cx="40.6" cy="359.4" r="0.51" fill="#000"/>
<circle cx="64.5" cy="354.6" r="0.71" fill="#000"/>
<circle cx="55.0" cy="377.9" r="0.59" fill="#888"/>
<circle cx="46.6" cy="372.1" r="0.37" fill="#222"/>
<circle cx="63.7" cy="364.6" r="0.32" fill="#444"/>
<circle cx="59.5" cy="363.5" r="0.55" fill="#000"/>
<circle cx="57.5" cy="361.8" r="0.65" fill="#666"/>
<circle cx="61.7" cy="367.2" r="0.64" fill="#222"/>
<circle cx="51.4" cy="356.6" r="0.57" fill="#000"/>
<circle cx="45.3" cy="366.9" r="0.48" fill="#444"/>
<circle cx="48.6" cy="365.8" r="0.41" fill="#222"/>
<circle cx="69.5" cy="356.7" r="0.51" fill="#222"/>
<circle cx="57.7" cy="358.5" r="0.67" fill="#000"/>
<circle cx="70.2" cy="358.6" r="0.70" fill="#222"/>
<circle cx="58.6" cy="348.5" r="0.72" fill="#666"/>
<circle cx="63.0" cy="353.6" r="0.50" fill="#444"/>
<circle cx="51.9" cy="372.4" r="0.35" fill="#444"/>
<circle cx="60.6" cy="371.3" r="0.33" fill="#666"/>
<circle cx="49.4" cy="362.9" r="0.69" fill="#444"/>
<circle cx="48.2" cy="369.2" r="0.31" fill="#888"/>
<circle cx="60.9" cy="356.6" r="0.38" fill="#666"/>
<circle cx="64.6" cy="372.3" r="0.52" fill="#222"/>
<circle cx="59.7" cy="364.5" r="0.70" fill="#222"/>
<circle cx="41.0" cy="359.2" r="0.35" fill="#222"/>
<circle cx="66.7" cy="362.9" r="0.42" fill="#222"/>
<circle cx="60.4" cy="362.6" r="0.43" fill="#222"/>
<circle cx="69.3" cy="370.2" r="0.43" fill="#000"/>
<circle cx="44.2" cy="369.3" r="0.53" fill="#666"/>
<circle cx="71.2" cy="365.2" r="0.54" fill="#222"/>
<circle cx="53.4" cy="367.7" r="0.48" fill="#444"/>
<circle cx="49.9" cy="362.2" r="0.38" fill="#222"/>
<circle cx="53.8" cy="357.6" r="0.34" fill="#000"/>
<circle cx="66.9" cy="355.6" r="0.64" fill="#222"/>
<circle cx="59.3" cy="377.9" r="0.62" fill="#222"/>
<circle cx="48.9" cy="361.2" r="0.33" fill="#888"/>
<circle cx="43.4" cy="373.0" r="0.32" fill="#444"/>
<circle cx="47.6" cy="378.5" r="0.69" fill="#666"/>
<circle cx="64.9" cy="370.9" r="0.64" fill="#222"/>
<circle cx="61.7" cy="358.6" r="0.38" fill="#444"/>
<circle cx="69.6" cy="368.3" r="0.56" fill="#000"/>
<circle cx="45.4" cy="378.0" r="0.74" fill="#000"/>
<circle cx="66.1" cy="375.0" r="0.67" fill="#444"/>
<circle cx="58.5" cy="349.3" r="0.56" fill="#000"/>
<circle cx="54.1" cy="370.4" r="0.63" fill="#666"/>
<circle cx="43.2" cy="364.0" r="0.54" fill="#000"/>
<circle cx="55.8" cy="370.1" r="0.58" fill="#222"/>
<circle cx="62.5" cy="370.2" r="0.67" fill="#000"/>
<circle cx="72.0" cy="367.0" r="0.63" fill="#444"/>
<circle cx="68.8" cy="366.5" r="0.56" fill="#888"/>
<circle cx="56.4" cy="376.4" r="0.46" fill="#000"/>
<circle cx="54.9" cy="361.4" r="0.36" fill="#666"/>
<circle cx="42.8" cy="357.3" r="0.35" fill="#000"/>
<circle cx="50.3" cy="368.5" r="0.57" fill="#222"/>
<circle cx="63.4" cy="375.4" r="0.64" fill="#222"/>
<circle cx="57.8" cy="364.3" r="0.59" fill="#666"/>
<circle cx="44.7" cy="357.4" r="0.32" fill="#000"/>
<circle cx="57.3" cy="355.2" r="0.41" fill="#444"/>
<circle cx="52.2" cy="349.6" r="0.55" fill="#444"/>
<circle cx="61.9" cy="350.5" r="0.32" fill="#888"/>
<circle cx="64.2" cy="376.3" r="0.46" fill="#666"/>
<circle cx="54.6" cy="363.4" r="0.35" fill="#222"/>
<circle cx="65.8" cy="369.8" r="0.53" fill="#000"/>
<circle cx="57.3" cy="376.0" r="0.48" fill="#666"/>
<circle cx="45.3" cy="353.5" r="0.70" fill="#000"/>
<circle cx="69.0" cy="367.9" r="0.42" fill="#888"/>
<circle cx="53.7" cy="377.5" r="0.72" fill="#888"/>
<circle cx="60.4" cy="368.5" r="0.31" fill="#222"/>
<circle cx="64.4" cy="362.2" r="0.44" fill="#222"/>
<circle cx="65.2" cy="374.1" r="0.73" fill="#888"/>
<circle cx="59.7" cy="362.1" r="0.57" fill="#222"/>
<circle cx="44.2" cy="369.5" r="0.70" fill="#666"/>
<circle cx="47.7" cy="360.8" r="0.63" fill="#888"/>
<circle cx="52.9" cy="376.2" r="0.61" fill="#222"/>
<circle cx="51.1" cy="358.8" r="0.62" fill="#666"/>
<circle cx="63.0" cy="359.1" r="0.52" fill="#444"/>
<circle cx="65.3" cy="366.9" r="0.38" fill="#888"/>
<circle cx="45.9" cy="373.8" r="0.31" fill="#444"/>
<circle cx="64.4" cy="379.3" r="0.45" fill="#444"/>
<circle cx="46.5" cy="365.5" r="0.74" fill="#444"/>
<circle cx="58.0" cy="365.9" r="0.55" fill="#888"/>
<circle cx="63.5" cy="356.8" r="0.33" fill="#666"/>
<circle cx="60.8" cy="356.2" r="0.64" fill="#888"/>
<circle cx="58.2" cy="381.6" r="0.63" fill="#222"/>
<circle cx="43.5" cy="372.0" r="0.36" fill="#222"/>
<circle cx="43.8" cy="354.4" r="0.67" fill="#888"/>
<circle cx="68.7" cy="373.9" r="0.71" fill="#666"/>
<circle cx="54.0" cy="378.5" r="0.58" fill="#222"/>
<circle cx="50.9" cy="367.9" r="0.48" fill="#888"/>
<circle cx="45.2" cy="358.8" r="0.73" fill="#888"/>
<circle cx="64.9" cy="377.8" r="0.43" fill="#888"/>
<circle cx="47.3" cy="358.4" r="0.50" fill="#666"/>
<circle cx="53.2" cy="374.9" r="0.46" fill="#888"/>
<circle cx="45.6" cy="361.4" r="0.44" fill="#666"/>
<circle cx="48.7" cy="371.4" r="0.54" fill="#222"/>
<circle cx="45.9" cy="369.1" r="0.40" fill="#444"/>
<circle cx="48.5" cy="379.1" r="0.68" fill="#444"/>
<circle cx="58.8" cy="375.7" r="0.71" fill="#000"/>
<circle cx="64.2" cy="366.4" r="0.70" fill="#444"/>
<circle cx="68.8" cy="357.8" r="0.54" fill="#666"/>
<circle cx="43.3" cy="363.7" r="0.61" fill="#666"/>
<circle cx="52.2" cy="365.8" r="0.60" fill="#666"/>
<circle cx="69.0" cy="360.5" r="0.54" fill="#000"/>
<circle cx="45.4" cy="371.5" r="0.59" fill="#888"/>
<circle cx="59.8" cy="371.1" r="0.49" fill="#666"/>
<circle cx="43.0" cy="370.0" r="0.75" fill="#444"/>
<circle cx="50.3" cy="351.2" r="0.34" fill="#444"/>
<circle cx="48.6" cy="380.4" r="0.67" fill="#888"/>
<circle cx="61.9" cy="377.4" r="0.43" fill="#444"/>
<circle cx="62.9" cy="349.6" r="0.70" fill="#666"/>
<circle cx="47.2" cy="355.9" r="0.67" fill="#222"/>
<circle cx="48.2" cy="364.8" r="0.38" fill="#888"/>
<circle cx="47.5" cy="358.8" r="0.75" fill="#000"/>
<circle cx="55.0" cy="363.3" r="0.30" fill="#888"/>
<circle cx="65.1" cy="365.2" r="0.68" fill="#888"/>
<circle cx="58.5" cy="365.3" r="0.38" fill="#888"/>
<circle cx="41.0" cy="358.5" r="0.70" fill="#888"/>
<circle cx="68.6" cy="364.8" r="0.48" fill="#000"/>
<circle cx="63.1" cy="374.8" r="0.53" fill="#000"/>
<circle cx="61.3" cy="369.2" r="0.54" fill="#666"/>
<circle cx="43.9" cy="355.0" r="0.33" fill="#000"/>
<circle cx="50.4" cy="353.0" r="0.36" fill="#222"/>
<circle cx="51.3" cy="370.6" r="0.42" fill="#000"/>
<circle cx="66.2" cy="352.1" r="0.33" fill="#222"/>
<circle cx="45.5" cy="368.3" r="0.32" fill="#666"/>
<circle cx="41.0" cy="356.7" r="0.50" fill="#888"/>
<circle cx="56.2" cy="373.1" r="0.37" fill="#888"/>
<circle cx="61.5" cy="357.4" r="0.70" fill="#666"/>
<circle cx="51.2" cy="377.6" r="0.73" fill="#666"/>
<circle cx="60.0" cy="364.4" r="0.60" fill="#888"/>
<circle cx="57.3" cy="374.4" r="0.69" fill="#666"/>
<circle cx="71.4" cy="367.2" r="0.34" fill="#222"/>
<circle cx="50.9" cy="370.8" r="0.74" fill="#444"/>
<circle cx="47.4" cy="371.3" r="0.45" fill="#666"/>
<circle cx="48.5" cy="376.9" r="0.73" fill="#666"/>
<circle cx="60.3" cy="356.0" r="0.41" fill="#222"/>
<circle cx="45.7" cy="367.1" r="0.50" fill="#444"/>
<circle cx="50.5" cy="356.4" r="0.37" fill="#222"/>
<circle cx="63.0" cy="369.9" r="0.68" fill="#222"/>
<circle cx="44.6" cy="361.0" r="0.66" fill="#222"/>
<circle cx="61.1" cy="373.6" r="0.63" fill="#666"/>
<circle cx="46.6" cy="355.5" r="0.43" fill="#666"/>
<circle cx="47.4" cy="364.8" r="0.50" fill="#222"/>
<circle cx="71.6" cy="358.9" r="0.57" fill="#666"/>
<circle cx="46.7" cy="359.6" r="0.41" fill="#888"/>
<circle cx="49.5" cy="364.6" r="0.64" fill="#888"/>
<circle cx="68.9" cy="373.6" r="0.63" fill="#666"/>
<circle cx="69.9" cy="367.6" r="0.37" fill="#000"/>
<circle cx="51.7" cy="368.2" r="0.38" fill="#222"/>
<circle cx="49.6" cy="377.6" r="0.35" fill="#888"/>
<circle cx="68.8" cy="357.1" r="0.64" fill="#222"/>
<circle cx="64.4" cy="368.9" r="0.40" fill="#222"/>
<circle cx="60.0" cy="355.1" r="0.46" fill="#666"/>
<circle cx="58.1" cy="349.1" r="0.69" fill="#222"/>
<circle cx="62.2" cy="362.2" r="0.46" fill="#444"/>
<circle cx="57.8" cy="363.4" r="0.62" fill="#666"/>
<circle cx="55.8" cy="380.8" r="0.46" fill="#000"/>
<circle cx="58.0" cy="370.3" r="0.71" fill="#222"/>
<circle cx="54.8" cy="361.6" r="0.32" fill="#222"/>
<circle cx="42.1" cy="371.3" r="0.37" fill="#000"/>
<circle cx="42.7" cy="360.6" r="0.72" fill="#888"/>
<circle cx="62.5" cy="354.0" r="0.62" fill="#444"/>
<circle cx="68.1" cy="358.7" r="0.56" fill="#000"/>
<circle cx="67.0" cy="374.7" r="0.59" fill="#000"/>
<circle cx="64.9" cy="355.7" r="0.61" fill="#222"/>
<circle cx="54.2" cy="362.0" r="0.44" fill="#444"/>
<circle cx="55.6" cy="360.0" r="0.61" fill="#666"/>
<circle cx="69.1" cy="364.8" r="0.40" fill="#888"/>
<circle cx="69.7" cy="373.9" r="0.49" fill="#444"/>
<circle cx="50.3" cy="351.2" r="0.67" fill="#666"/>
<circle cx="41.5" cy="364.2" r="0.39" fill="#888"/>
<circle cx="64.2" cy="352.6" r="0.52" fill="#222"/>
<circle cx="69.4" cy="368.9" r="0.66" fill="#444"/>
<circle cx="58.8" cy="371.2" r="0.65" fill="#222"/>
<circle cx="47.4" cy="362.7" r="0.33" fill="#444"/>
<circle cx="52.6" cy="369.3" r="0.59" fill="#222"/>
<circle cx="65.0" cy="375.9" r="0.60" fill="#222"/>
<circle cx="55.2" cy="363.7" r="0.61" fill="#222"/>
<circle cx="65.0" cy="361.0" r="0.43" fill="#222"/>
<circle cx="48.4" cy="360.6" r="0.58" fill="#000"/>
<circle cx="41.3" cy="360.5" r="0.38" fill="#222"/>
<circle cx="46.1" cy="358.2" r="0.64" fill="#222"/>
<path d="M36.6,361.1 A19.4,19.4 0 0 0 59.5,384.0" fill="none" stroke="#222" stroke-width="2.2" opacity="0.8"/>
<radialGradient id="gf"><stop offset="0" stop-color="#c8c8c8"/><stop offset="1" stop-color="#d8d8d8"/></radialGradient>
<circle cx="102.0" cy="365.0" r="21.9" fill="none" stroke="#9a9a9a" stroke-width="2.2" opacity="0.6"/>
<circle cx="101.7" cy="366.0" r="20.9" fill="none" stroke="#555" stroke-width="2.0" opacity="0.7"/>
<circle cx="102.0" cy="365.0" r="20.0" fill="#fff" stroke="#111" stroke-width="1.45"/>
<circle cx="102.0" cy="365.0" r="16.75" fill="url(#gf)"/>
<circle cx="108.6" cy="370.8" r="0.44" fill="#444"/>
<circle cx="116.9" cy="369.2" r="0.42" fill="#222"/>
<circle cx="98.7" cy="354.6" r="0.35" fill="#666"/>
<circle cx="90.4" cy="369.2" r="0.42" fill="#999"/>
<circle cx="103.5" cy="365.7" r="0.70" fill="#888"/>
<circle cx="114.0" cy="372.0" r="0.69" fill="#999"/>
<circle cx="100.8" cy="378.1" r="0.68" fill="#888"/>
<circle cx="106.4" cy="376.2" r="0.30" fill="#222"/>
<circle cx="94.0" cy="354.8" r="0.67" fill="#666"/>
<circle cx="99.4" cy="361.3" r="0.60" fill="#222"/>
<circle cx="104.3" cy="350.2" r="0.42" fill="#444"/>
<circle cx="113.5" cy="362.2" r="0.66" fill="#444"/>
<circle cx="113.1" cy="373.3" r="0.42" fill="#999"/>
<circle cx="98.7" cy="371.2" r="0.63" fill="#666"/>
<circle cx="102.7" cy="371.0" r="0.67" fill="#666"/>
<circle cx="102.2" cy="368.3" r="0.53" fill="#888"/>
<circle cx="115.2" cy="356.1" r="0.50" fill="#888"/>
<circle cx="100.0" cy="348.8" r="0.54" fill="#222"/>
<circle cx="106.9" cy="371.1" r="0.36" fill="#888"/>
<circle cx="104.8" cy="366.7" r="0.48" fill="#444"/>
<circle cx="104.0" cy="374.8" r="0.31" fill="#999"/>
<circle cx="110.9" cy="353.6" r="0.47" fill="#666"/>
<circle cx="105.5" cy="366.7" r="0.58" fill="#666"/>
<circle cx="103.4" cy="365.6" r="0.68" fill="#444"/>
<circle cx="107.5" cy="361.2" r="0.42" fill="#888"/>
<circle cx="106.5" cy="352.3" r="0.53" fill="#888"/>
<circle cx="110.0" cy="369.7" r="0.48" fill="#999"/>
<circle cx="114.8" cy="356.7" r="0.69" fill="#999"/>
<circle cx="91.3" cy="354.9" r="0.32" fill="#666"/>
<circle cx="95.1" cy="359.4" r="0.53" fill="#666"/>
<circle cx="88.9" cy="366.6" r="0.42" fill="#666"/>
<circle cx="89.2" cy="362.5" r="0.64" fill="#444"/>
<circle cx="97.3" cy="355.1" r="0.33" fill="#999"/>
<circle cx="93.4" cy="374.0" r="0.47" fill="#999"/>
<circle cx="102.7" cy="375.8" r="0.40" fill="#444"/>
<circle cx="108.5" cy="379.0" r="0.52" fill="#222"/>
<circle cx="104.7" cy="379.7" r="0.56" fill="#444"/>
<circle cx="94.0" cy="363.4" r="0.50" fill="#999"/>
<circle cx="90.4" cy="368.1" r="0.58" fill="#999"/>
<circle cx="112.4" cy="358.4" r="0.64" fill="#222"/>
<circle cx="103.9" cy="359.3" r="0.50" fill="#999"/>
<circle cx="98.9" cy="351.1" r="0.35" fill="#999"/>
<circle cx="113.9" cy="373.9" r="0.46" fill="#444"/>
<circle cx="109.0" cy="363.6" r="0.49" fill="#222"/>
<circle cx="111.4" cy="375.9" r="0.32" fill="#444"/>
<circle cx="105.2" cy="366.0" r="0.58" fill="#444"/>
<circle cx="96.5" cy="366.4" r="0.35" fill="#222"/>
<circle cx="90.9" cy="354.5" r="0.53" fill="#666"/>
<circle cx="109.0" cy="377.3" r="0.44" fill="#222"/>
<circle cx="104.6" cy="359.9" r="0.45" fill="#999"/>
<circle cx="115.2" cy="360.5" r="0.32" fill="#999"/>
<circle cx="96.1" cy="372.8" r="0.43" fill="#999"/>
<circle cx="113.9" cy="375.2" r="0.57" fill="#666"/>
<circle cx="93.7" cy="375.8" r="0.31" fill="#999"/>
<circle cx="88.5" cy="370.4" r="0.50" fill="#222"/>
<circle cx="104.2" cy="358.3" r="0.52" fill="#666"/>
<circle cx="111.4" cy="355.5" r="0.63" fill="#999"/>
<circle cx="110.5" cy="356.5" r="0.58" fill="#666"/>
<circle cx="103.8" cy="364.4" r="0.44" fill="#444"/>
<circle cx="90.7" cy="365.9" r="0.31" fill="#222"/>
<circle cx="113.5" cy="370.8" r="0.56" fill="#999"/>
<circle cx="93.2" cy="372.0" r="0.36" fill="#888"/>
<circle cx="90.0" cy="374.5" r="0.54" fill="#222"/>
<circle cx="94.4" cy="374.1" r="0.42" fill="#444"/>
<circle cx="99.1" cy="363.2" r="0.37" fill="#666"/>
<circle cx="100.7" cy="355.7" r="0.49" fill="#666"/>
<circle cx="98.3" cy="373.7" r="0.49" fill="#444"/>
<circle cx="113.0" cy="366.4" r="0.69" fill="#222"/>
<circle cx="92.5" cy="354.8" r="0.36" fill="#888"/>
<circle cx="100.3" cy="376.4" r="0.40" fill="#999"/>
<circle cx="90.8" cy="359.4" r="0.36" fill="#222"/>
<circle cx="115.4" cy="357.1" r="0.34" fill="#444"/>
<circle cx="104.0" cy="352.1" r="0.55" fill="#666"/>
<circle cx="105.8" cy="350.9" r="0.40" fill="#444"/>
<circle cx="98.2" cy="356.8" r="0.61" fill="#666"/>
<circle cx="89.0" cy="364.3" r="0.44" fill="#999"/>
<circle cx="100.0" cy="355.8" r="0.58" fill="#666"/>
<circle cx="112.8" cy="355.3" r="0.50" fill="#444"/>
<circle cx="107.9" cy="349.8" r="0.36" fill="#444"/>
<circle cx="117.2" cy="365.7" r="0.48" fill="#888"/>
<circle cx="90.6" cy="373.7" r="0.67" fill="#999"/>
<circle cx="110.2" cy="368.6" r="0.42" fill="#999"/>
<circle cx="87.0" cy="360.0" r="0.44" fill="#444"/>
<circle cx="98.0" cy="362.7" r="0.37" fill="#999"/>
<circle cx="95.2" cy="373.9" r="0.69" fill="#888"/>
<circle cx="99.2" cy="349.6" r="0.64" fill="#666"/>
<circle cx="108.9" cy="359.9" r="0.40" fill="#222"/>
<circle cx="102.7" cy="352.1" r="0.39" fill="#222"/>
<circle cx="104.0" cy="375.1" r="0.38" fill="#999"/>
<circle cx="99.6" cy="376.3" r="0.34" fill="#444"/>
<circle cx="100.4" cy="349.0" r="0.54" fill="#222"/>
<circle cx="115.2" cy="371.6" r="0.53" fill="#444"/>
<circle cx="110.5" cy="365.3" r="0.56" fill="#222"/>
<circle cx="92.0" cy="352.9" r="0.38" fill="#666"/>
<circle cx="103.8" cy="363.0" r="0.49" fill="#999"/>
<circle cx="97.9" cy="356.4" r="0.32" fill="#888"/>
<circle cx="103.4" cy="360.4" r="0.55" fill="#888"/>
<circle cx="112.3" cy="364.2" r="0.68" fill="#222"/>
<circle cx="111.1" cy="366.5" r="0.56" fill="#666"/>
<circle cx="114.0" cy="369.4" r="0.59" fill="#666"/>
<circle cx="103.2" cy="366.9" r="0.38" fill="#999"/>
<circle cx="102.5" cy="360.1" r="0.63" fill="#888"/>
<circle cx="94.5" cy="376.2" r="0.65" fill="#444"/>
<circle cx="95.0" cy="354.4" r="0.43" fill="#999"/>
<circle cx="101.3" cy="378.8" r="0.61" fill="#666"/>
<circle cx="95.0" cy="355.1" r="0.58" fill="#999"/>
<circle cx="99.9" cy="376.6" r="0.68" fill="#444"/>
<circle cx="101.8" cy="377.2" r="0.34" fill="#666"/>
<circle cx="109.6" cy="375.5" r="0.46" fill="#222"/>
<circle cx="113.9" cy="360.0" r="0.35" fill="#999"/>
<circle cx="89.8" cy="364.9" r="0.37" fill="#999"/>
<circle cx="97.8" cy="369.7" r="0.37" fill="#444"/>
<circle cx="92.5" cy="363.3" r="0.58" fill="#888"/>
<circle cx="113.5" cy="363.7" r="0.55" fill="#666"/>
<circle cx="110.3" cy="359.1" r="0.38" fill="#222"/>
<circle cx="112.9" cy="373.8" r="0.33" fill="#888"/>
<circle cx="97.6" cy="356.4" r="0.39" fill="#888"/>
<circle cx="88.8" cy="373.4" r="0.68" fill="#444"/>
<circle cx="104.3" cy="365.5" r="0.58" fill="#444"/>
<circle cx="102.9" cy="372.3" r="0.60" fill="#666"/>
<circle cx="97.1" cy="380.6" r="0.39" fill="#999"/>
<circle cx="104.9" cy="354.1" r="0.67" fill="#666"/>
<circle cx="107.8" cy="363.3" r="0.42" fill="#222"/>
<circle cx="96.4" cy="374.9" r="0.66" fill="#444"/>
<circle cx="96.6" cy="376.6" r="0.68" fill="#444"/>
<circle cx="88.5" cy="357.7" r="0.38" fill="#666"/>
<circle cx="115.8" cy="369.1" r="0.48" fill="#888"/>
<circle cx="112.7" cy="352.7" r="0.42" fill="#222"/>
<circle cx="104.2" cy="359.0" r="0.67" fill="#444"/>
<circle cx="107.4" cy="361.7" r="0.59" fill="#222"/>
<circle cx="102.1" cy="353.9" r="0.46" fill="#888"/>
<circle cx="93.6" cy="378.3" r="0.59" fill="#666"/>
<circle cx="104.9" cy="364.6" r="0.39" fill="#222"/>
<circle cx="113.3" cy="367.7" r="0.39" fill="#888"/>
<circle cx="97.6" cy="351.8" r="0.32" fill="#666"/>
<circle cx="107.0" cy="367.1" r="0.68" fill="#444"/>
<circle cx="101.2" cy="364.9" r="0.39" fill="#999"/>
<circle cx="110.4" cy="376.3" r="0.50" fill="#222"/>
<circle cx="87.3" cy="362.2" r="0.68" fill="#222"/>
<circle cx="97.6" cy="371.2" r="0.69" fill="#444"/>
<circle cx="101.0" cy="356.5" r="0.37" fill="#666"/>
<circle cx="100.1" cy="381.0" r="0.38" fill="#222"/>
<circle cx="91.8" cy="371.7" r="0.45" fill="#222"/>
<circle cx="100.5" cy="368.0" r="0.48" fill="#666"/>
<circle cx="89.0" cy="360.9" r="0.69" fill="#666"/>
<circle cx="94.6" cy="370.5" r="0.47" fill="#444"/>
<circle cx="94.3" cy="371.6" r="0.46" fill="#444"/>
<circle cx="112.4" cy="357.2" r="0.40" fill="#999"/>
<circle cx="109.4" cy="361.3" r="0.54" fill="#888"/>
<circle cx="116.8" cy="364.2" r="0.57" fill="#222"/>
<circle cx="110.0" cy="352.9" r="0.66" fill="#222"/>
<circle cx="91.9" cy="371.8" r="0.57" fill="#888"/>
<circle cx="93.2" cy="362.2" r="0.69" fill="#222"/>
<circle cx="89.0" cy="367.2" r="0.49" fill="#666"/>
<circle cx="88.4" cy="356.1" r="0.39" fill="#888"/>
<circle cx="99.5" cy="368.3" r="0.69" fill="#666"/>
<circle cx="91.8" cy="356.2" r="0.43" fill="#999"/>
<circle cx="93.9" cy="351.5" r="0.61" fill="#666"/>
<circle cx="111.4" cy="358.9" r="0.59" fill="#999"/>
<circle cx="91.6" cy="358.4" r="0.70" fill="#222"/>
<circle cx="112.7" cy="359.8" r="0.51" fill="#999"/>
<circle cx="106.8" cy="373.6" r="0.57" fill="#444"/>
<circle cx="106.8" cy="355.0" r="0.56" fill="#222"/>
<circle cx="97.7" cy="373.8" r="0.65" fill="#888"/>
<circle cx="106.6" cy="369.5" r="0.40" fill="#222"/>
<circle cx="93.2" cy="375.0" r="0.51" fill="#666"/>
<circle cx="97.4" cy="366.4" r="0.46" fill="#888"/>
<circle cx="98.3" cy="354.7" r="0.49" fill="#444"/>
<circle cx="102.3" cy="358.7" r="0.57" fill="#666"/>
<circle cx="88.7" cy="365.9" r="0.55" fill="#999"/>
<circle cx="96.6" cy="373.5" r="0.31" fill="#444"/>
<circle cx="110.3" cy="365.0" r="0.54" fill="#666"/>
<circle cx="100.3" cy="356.6" r="0.43" fill="#444"/>
<circle cx="101.0" cy="375.8" r="0.51" fill="#888"/>
<circle cx="106.6" cy="359.3" r="0.47" fill="#666"/>
<circle cx="94.6" cy="358.3" r="0.32" fill="#888"/>
<circle cx="99.6" cy="367.4" r="0.60" fill="#888"/>
<circle cx="90.4" cy="370.4" r="0.40" fill="#444"/>
<circle cx="92.7" cy="373.2" r="0.67" fill="#444"/>
<circle cx="116.9" cy="362.9" r="0.53" fill="#222"/>
<circle cx="97.3" cy="356.9" r="0.33" fill="#888"/>
<circle cx="93.4" cy="373.1" r="0.50" fill="#222"/>
<circle cx="111.6" cy="372.7" r="0.67" fill="#888"/>
<circle cx="92.3" cy="370.7" r="0.66" fill="#888"/>
<circle cx="97.2" cy="368.6" r="0.60" fill="#222"/>
<circle cx="95.3" cy="352.7" r="0.46" fill="#222"/>
<circle cx="109.9" cy="361.0" r="0.43" fill="#888"/>
<circle cx="102.7" cy="359.4" r="0.39" fill="#222"/>
<circle cx="100.2" cy="364.1" r="0.50" fill="#444"/>
<circle cx="98.5" cy="363.5" r="0.57" fill="#666"/>
<circle cx="98.2" cy="365.4" r="0.58" fill="#888"/>
<circle cx="105.4" cy="359.9" r="0.46" fill="#222"/>
<circle cx="106.3" cy="360.5" r="0.43" fill="#999"/>
<circle cx="109.0" cy="364.2" r="0.52" fill="#999"/>
<circle cx="101.3" cy="374.1" r="0.40" fill="#666"/>
<circle cx="91.0" cy="361.0" r="0.47" fill="#222"/>
<circle cx="99.2" cy="372.6" r="0.45" fill="#888"/>
<circle cx="107.1" cy="358.5" r="0.38" fill="#222"/>
<circle cx="105.5" cy="377.7" r="0.67" fill="#888"/>
<circle cx="100.5" cy="359.0" r="0.67" fill="#666"/>
<circle cx="106.8" cy="379.9" r="0.52" fill="#222"/>
<circle cx="101.8" cy="363.5" r="0.33" fill="#999"/>
<circle cx="103.4" cy="362.2" r="0.39" fill="#888"/>
<circle cx="98.4" cy="378.3" r="0.62" fill="#999"/>
<circle cx="94.0" cy="358.3" r="0.59" fill="#444"/>
<circle cx="104.8" cy="362.3" r="0.47" fill="#222"/>
<circle cx="116.5" cy="369.6" r="0.33" fill="#999"/>
<circle cx="100.1" cy="365.0" r="0.59" fill="#444"/>
<circle cx="88.6" cy="365.2" r="0.57" fill="#666"/>
<circle cx="105.8" cy="353.7" r="0.36" fill="#444"/>
<circle cx="90.9" cy="363.9" r="0.38" fill="#222"/>
<circle cx="112.0" cy="361.8" r="0.56" fill="#666"/>
<circle cx="99.0" cy="354.5" r="0.47" fill="#222"/>
<circle cx="107.3" cy="362.3" r="0.36" fill="#888"/>
<circle cx="99.9" cy="372.6" r="0.53" fill="#666"/>
<circle cx="98.3" cy="351.6" r="0.42" fill="#666"/>
<circle cx="95.2" cy="378.4" r="0.36" fill="#444"/>
<circle cx="99.7" cy="366.9" r="0.45" fill="#666"/>
<circle cx="104.0" cy="376.9" r="0.34" fill="#888"/>
<circle cx="106.2" cy="370.6" r="0.43" fill="#888"/>
<circle cx="113.2" cy="374.8" r="0.35" fill="#444"/>
<circle cx="117.8" cy="364.6" r="0.51" fill="#666"/>
<circle cx="99.8" cy="365.1" r="0.61" fill="#222"/>
<circle cx="104.6" cy="373.2" r="0.42" fill="#999"/>
<circle cx="97.3" cy="363.8" r="0.36" fill="#666"/>
<circle cx="103.6" cy="350.8" r="0.66" fill="#999"/>
<circle cx="104.6" cy="363.7" r="0.54" fill="#222"/>
<circle cx="93.1" cy="378.2" r="0.56" fill="#222"/>
<circle cx="106.6" cy="373.5" r="0.49" fill="#666"/>
<circle cx="101.7" cy="358.1" r="0.62" fill="#666"/>
<circle cx="107.0" cy="352.0" r="0.48" fill="#999"/>
<circle cx="107.0" cy="369.3" r="0.46" fill="#222"/>
<circle cx="113.5" cy="367.5" r="0.34" fill="#444"/>
<circle cx="89.1" cy="372.6" r="0.33" fill="#444"/>
<circle cx="93.6" cy="375.3" r="0.34" fill="#222"/>
<circle cx="110.4" cy="352.2" r="0.49" fill="#444"/>
<circle cx="101.6" cy="370.3" r="0.40" fill="#444"/>
<circle cx="90.0" cy="365.3" r="0.35" fill="#888"/>
<circle cx="102.3" cy="377.3" r="0.32" fill="#666"/>
<circle cx="97.1" cy="370.4" r="0.46" fill="#444"/>
<circle cx="117.5" cy="363.8" r="0.59" fill="#999"/>
<circle cx="86.6" cy="364.8" r="0.31" fill="#222"/>
<circle cx="87.5" cy="366.1" r="0.53" fill="#444"/>
<circle cx="107.8" cy="368.5" r="0.64" fill="#222"/>
<circle cx="90.5" cy="370.9" r="0.34" fill="#999"/>
<circle cx="105.7" cy="362.0" r="0.53" fill="#444"/>
<circle cx="102.6" cy="379.4" r="0.51" fill="#222"/>
<circle cx="103.9" cy="361.0" r="0.43" fill="#222"/>
<circle cx="114.4" cy="368.3" r="0.58" fill="#666"/>
<circle cx="94.0" cy="377.3" r="0.48" fill="#444"/>
<circle cx="117.8" cy="366.1" r="0.46" fill="#888"/>
<circle cx="116.2" cy="367.9" r="0.36" fill="#999"/>
<circle cx="99.2" cy="359.3" r="0.44" fill="#444"/>
<circle cx="106.5" cy="380.1" r="0.57" fill="#222"/>
<circle cx="116.5" cy="364.8" r="0.49" fill="#888"/>
<circle cx="92.7" cy="363.5" r="0.33" fill="#999"/>
<circle cx="97.2" cy="359.5" r="0.55" fill="#666"/>
<circle cx="103.1" cy="360.2" r="0.59" fill="#666"/>
<circle cx="89.3" cy="357.7" r="0.50" fill="#888"/>
<circle cx="111.8" cy="376.2" r="0.67" fill="#222"/>
<circle cx="101.5" cy="350.1" r="0.62" fill="#999"/>
<circle cx="107.2" cy="373.7" r="0.56" fill="#999"/>
<circle cx="97.1" cy="380.3" r="0.51" fill="#222"/>
<circle cx="115.2" cy="371.0" r="0.62" fill="#444"/>
<circle cx="102.8" cy="377.5" r="0.52" fill="#888"/>
<circle cx="87.9" cy="357.8" r="0.66" fill="#222"/>
<circle cx="90.7" cy="374.1" r="0.62" fill="#666"/>
<circle cx="106.8" cy="355.7" r="0.33" fill="#666"/>
<circle cx="93.9" cy="351.7" r="0.47" fill="#666"/>
<circle cx="113.4" cy="365.3" r="0.31" fill="#222"/>
<circle cx="110.1" cy="357.2" r="0.46" fill="#666"/>
<circle cx="92.9" cy="367.5" r="0.39" fill="#666"/>
<circle cx="93.2" cy="371.9" r="0.31" fill="#666"/>
<circle cx="109.2" cy="369.5" r="0.58" fill="#888"/>
<circle cx="92.0" cy="371.6" r="0.40" fill="#444"/>
<circle cx="100.6" cy="362.0" r="0.63" fill="#444"/>
<circle cx="94.7" cy="371.0" r="0.36" fill="#444"/>
<circle cx="104.5" cy="380.2" r="0.54" fill="#888"/>
<circle cx="98.7" cy="373.6" r="0.65" fill="#999"/>
<circle cx="107.5" cy="378.8" r="0.36" fill="#999"/>
<circle cx="117.1" cy="365.9" r="0.34" fill="#444"/>
<circle cx="87.9" cy="369.1" r="0.40" fill="#666"/>
<circle cx="94.7" cy="350.5" r="0.59" fill="#999"/>
<circle cx="99.0" cy="359.8" r="0.60" fill="#666"/>
<circle cx="99.7" cy="361.1" r="0.55" fill="#888"/>
<circle cx="101.1" cy="373.8" r="0.42" fill="#888"/>
<circle cx="115.6" cy="359.4" r="0.32" fill="#888"/>
<circle cx="88.4" cy="365.6" r="0.31" fill="#222"/>
<circle cx="91.8" cy="361.1" r="0.60" fill="#444"/>
<circle cx="100.1" cy="351.0" r="0.31" fill="#666"/>
<circle cx="100.6" cy="365.2" r="0.67" fill="#666"/>
<circle cx="109.7" cy="374.9" r="0.53" fill="#222"/>
<circle cx="108.8" cy="364.9" r="0.54" fill="#666"/>
<circle cx="96.4" cy="359.2" r="0.61" fill="#222"/>
<circle cx="87.8" cy="372.7" r="0.56" fill="#888"/>
<circle cx="85.9" cy="365.7" r="0.44" fill="#666"/>
<circle cx="95.3" cy="378.3" r="0.50" fill="#222"/>
<circle cx="104.6" cy="355.7" r="0.36" fill="#999"/>
<circle cx="103.4" cy="361.2" r="0.42" fill="#999"/>
<circle cx="106.4" cy="373.0" r="0.32" fill="#666"/>
<circle cx="116.2" cy="362.4" r="0.44" fill="#444"/>
<circle cx="99.8" cy="380.3" r="0.49" fill="#999"/>
<circle cx="97.3" cy="374.8" r="0.34" fill="#666"/>
<circle cx="96.0" cy="372.1" r="0.62" fill="#888"/>
<circle cx="101.2" cy="372.3" r="0.66" fill="#888"/>
<circle cx="91.6" cy="364.9" r="0.36" fill="#666"/>
<circle cx="110.3" cy="367.4" r="0.51" fill="#999"/>
<circle cx="108.1" cy="356.4" r="0.33" fill="#888"/>
<circle cx="91.8" cy="376.9" r="0.51" fill="#666"/>
<circle cx="105.4" cy="360.4" r="0.48" fill="#222"/>
<circle cx="116.4" cy="368.8" r="0.53" fill="#666"/>
<circle cx="94.1" cy="359.1" r="0.69" fill="#222"/>
<circle cx="105.6" cy="361.4" r="0.54" fill="#888"/>
<circle cx="109.0" cy="353.1" r="0.67" fill="#444"/>
<circle cx="92.1" cy="352.3" r="0.55" fill="#222"/>
<circle cx="103.6" cy="354.9" r="0.68" fill="#666"/>
<circle cx="92.6" cy="371.8" r="0.43" fill="#444"/>
<circle cx="100.5" cy="359.0" r="0.59" fill="#888"/>
<circle cx="94.5" cy="351.4" r="0.35" fill="#666"/>
<circle cx="95.5" cy="350.7" r="0.33" fill="#222"/>
<circle cx="110.0" cy="354.3" r="0.53" fill="#888"/>
<circle cx="105.1" cy="378.6" r="0.61" fill="#444"/>
<circle cx="109.8" cy="375.9" r="0.60" fill="#999"/>
<circle cx="108.1" cy="371.1" r="0.31" fill="#888"/>
<circle cx="106.3" cy="360.9" r="0.58" fill="#888"/>
<circle cx="95.5" cy="359.4" r="0.33" fill="#999"/>
<circle cx="92.8" cy="357.9" r="0.54" fill="#444"/>
<circle cx="98.4" cy="374.1" r="0.53" fill="#222"/>
<circle cx="93.3" cy="375.6" r="0.33" fill="#666"/>
<circle cx="104.2" cy="375.8" r="0.61" fill="#888"/>
<circle cx="101.4" cy="368.9" r="0.48" fill="#999"/>
<circle cx="99.6" cy="363.3" r="0.52" fill="#888"/>
<circle cx="108.0" cy="370.0" r="0.55" fill="#666"/>
<circle cx="113.6" cy="362.4" r="0.39" fill="#999"/>
<circle cx="104.0" cy="357.8" r="0.64" fill="#999"/>
<circle cx="99.2" cy="364.3" r="0.61" fill="#222"/>
<circle cx="105.2" cy="357.1" r="0.45" fill="#666"/>
<circle cx="100.0" cy="352.7" r="0.46" fill="#999"/>
<circle cx="112.0" cy="362.1" r="0.57" fill="#222"/>
<circle cx="107.4" cy="349.9" r="0.43" fill="#666"/>
<circle cx="112.2" cy="369.9" r="0.35" fill="#888"/>
<circle cx="117.1" cy="362.0" r="0.55" fill="#444"/>
<circle cx="98.1" cy="371.0" r="0.46" fill="#666"/>
<circle cx="102.3" cy="360.5" r="0.66" fill="#222"/>
<circle cx="95.3" cy="367.7" r="0.58" fill="#444"/>
<circle cx="103.1" cy="357.7" r="0.60" fill="#666"/>
<circle cx="101.8" cy="349.1" r="0.67" fill="#999"/>
<circle cx="101.2" cy="361.0" r="0.38" fill="#222"/>
<circle cx="108.7" cy="353.7" r="0.60" fill="#999"/>
<circle cx="101.2" cy="374.7" r="0.37" fill="#666"/>
<circle cx="111.0" cy="364.5" r="0.32" fill="#444"/>
<circle cx="98.2" cy="355.1" r="0.31" fill="#888"/>
<circle cx="103.4" cy="355.5" r="0.64" fill="#666"/>
<circle cx="103.9" cy="353.9" r="0.70" fill="#666"/>
<circle cx="105.1" cy="354.2" r="0.63" fill="#444"/>
<circle cx="109.0" cy="355.4" r="0.40" fill="#888"/>
<circle cx="104.1" cy="372.9" r="0.31" fill="#444"/>
<circle cx="98.1" cy="349.6" r="0.69" fill="#888"/>
<circle cx="104.1" cy="351.2" r="0.36" fill="#888"/>
<circle cx="103.2" cy="366.4" r="0.39" fill="#999"/>
<circle cx="99.3" cy="364.5" r="0.63" fill="#222"/>
<circle cx="98.7" cy="365.8" r="0.66" fill="#999"/>
<circle cx="115.0" cy="357.2" r="0.44" fill="#999"/>
<circle cx="110.6" cy="357.5" r="0.56" fill="#444"/>
<circle cx="109.4" cy="365.3" r="0.44" fill="#222"/>
<circle cx="114.5" cy="373.9" r="0.68" fill="#888"/>
<circle cx="90.0" cy="368.4" r="0.55" fill="#888"/>
<circle cx="102.9" cy="352.7" r="0.59" fill="#888"/>
<circle cx="108.4" cy="376.5" r="0.64" fill="#444"/>
<circle cx="99.7" cy="354.0" r="0.65" fill="#999"/>
<circle cx="111.8" cy="377.1" r="0.54" fill="#222"/>
<circle cx="97.5" cy="351.1" r="0.66" fill="#222"/>
<circle cx="90.7" cy="374.1" r="0.63" fill="#222"/>
<circle cx="102.7" cy="380.6" r="0.38" fill="#222"/>
<circle cx="105.5" cy="365.9" r="0.40" fill="#444"/>
<circle cx="102.5" cy="361.6" r="0.52" fill="#999"/>
<circle cx="109.3" cy="360.9" r="0.36" fill="#222"/>
<circle cx="86.2" cy="367.1" r="0.60" fill="#222"/>
<circle cx="107.7" cy="378.6" r="0.37" fill="#999"/>
<circle cx="96.8" cy="375.5" r="0.68" fill="#888"/>
<circle cx="102.7" cy="364.6" r="0.64" fill="#999"/>
<circle cx="99.1" cy="361.2" r="0.52" fill="#999"/>
<circle cx="89.9" cy="356.8" r="0.33" fill="#222"/>
<circle cx="95.2" cy="354.1" r="0.48" fill="#222"/>
<circle cx="95.1" cy="362.3" r="0.37" fill="#999"/>
<circle cx="106.2" cy="354.8" r="0.35" fill="#444"/>
<circle cx="94.3" cy="350.7" r="0.55" fill="#222"/>
<circle cx="92.7" cy="362.2" r="0.34" fill="#444"/>
<circle cx="110.8" cy="352.8" r="0.34" fill="#666"/>
<circle cx="100.6" cy="374.0" r="0.42" fill="#888"/>
<circle cx="89.3" cy="355.0" r="0.61" fill="#222"/>
<circle cx="105.0" cy="366.6" r="0.57" fill="#999"/>
<circle cx="104.3" cy="374.9" r="0.69" fill="#999"/>
<circle cx="95.3" cy="361.6" r="0.60" fill="#222"/>
<circle cx="114.8" cy="357.2" r="0.59" fill="#222"/>
<circle cx="99.1" cy="359.7" r="0.66" fill="#222"/>
<circle cx="108.8" cy="379.4" r="0.48" fill="#444"/>
<circle cx="101.9" cy="374.0" r="0.44" fill="#666"/>
<circle cx="97.1" cy="369.4" r="0.37" fill="#888"/>
<circle cx="103.2" cy="350.1" r="0.70" fill="#666"/>
<circle cx="100.8" cy="373.1" r="0.46" fill="#222"/>
<circle cx="95.5" cy="375.2" r="0.44" fill="#666"/>
<circle cx="116.4" cy="365.2" r="0.40" fill="#666"/>
<circle cx="105.3" cy="353.5" r="0.34" fill="#666"/>
<circle cx="93.5" cy="369.3" r="0.33" fill="#222"/>
<circle cx="108.4" cy="363.6" r="0.51" fill="#999"/>
<circle cx="102.5" cy="380.7" r="0.67" fill="#999"/>
<circle cx="96.1" cy="350.1" r="0.34" fill="#444"/>
<circle cx="104.8" cy="378.9" r="0.65" fill="#666"/>
<circle cx="96.9" cy="367.4" r="0.68" fill="#999"/>
<circle cx="89.5" cy="370.1" r="0.58" fill="#666"/>
<circle cx="102.2" cy="356.9" r="0.40" fill="#222"/>
<circle cx="114.8" cy="373.3" r="0.56" fill="#999"/>
<circle cx="114.8" cy="362.1" r="0.54" fill="#222"/>
<circle cx="90.9" cy="357.1" r="0.42" fill="#222"/>
<circle cx="100.5" cy="353.1" r="0.33" fill="#222"/>
<circle cx="105.4" cy="369.3" r="0.50" fill="#999"/>
<circle cx="98.7" cy="357.1" r="0.61" fill="#444"/>
<circle cx="108.7" cy="360.1" r="0.46" fill="#444"/>
<circle cx="88.9" cy="369.7" r="0.34" fill="#888"/>
<circle cx="93.8" cy="377.5" r="0.31" fill="#444"/>
<circle cx="107.9" cy="369.6" r="0.44" fill="#666"/>
<circle cx="101.7" cy="366.6" r="0.38" fill="#222"/>
<circle cx="109.3" cy="376.1" r="0.53" fill="#666"/>
<circle cx="104.6" cy="370.6" r="0.34" fill="#222"/>
<circle cx="92.2" cy="373.9" r="0.53" fill="#444"/>
<circle cx="110.2" cy="368.4" r="0.41" fill="#444"/>
<circle cx="111.0" cy="361.2" r="0.52" fill="#444"/>
<circle cx="111.4" cy="376.1" r="0.40" fill="#666"/>
<circle cx="108.7" cy="376.5" r="0.65" fill="#444"/>
<circle cx="99.8" cy="374.8" r="0.61" fill="#444"/>
<circle cx="92.8" cy="352.6" r="0.61" fill="#666"/>
<circle cx="102.9" cy="380.4" r="0.41" fill="#222"/>
<circle cx="114.7" cy="369.2" r="0.63" fill="#444"/>
<circle cx="99.8" cy="376.0" r="0.49" fill="#222"/>
<circle cx="88.6" cy="368.4" r="0.34" fill="#222"/>
<circle cx="86.4" cy="366.5" r="0.66" fill="#888"/>
<circle cx="96.8" cy="367.1" r="0.33" fill="#666"/>
<circle cx="94.5" cy="367.8" r="0.44" fill="#222"/>
<circle cx="108.9" cy="368.3" r="0.60" fill="#999"/>
<circle cx="89.5" cy="354.5" r="0.67" fill="#888"/>
<circle cx="114.2" cy="375.1" r="0.51" fill="#444"/>
<circle cx="90.4" cy="363.4" r="0.43" fill="#222"/>
<circle cx="109.3" cy="369.2" r="0.67" fill="#888"/>
<circle cx="103.3" cy="359.2" r="0.62" fill="#666"/>
<circle cx="109.1" cy="370.0" r="0.62" fill="#222"/>
<circle cx="113.8" cy="376.1" r="0.49" fill="#444"/>
<circle cx="89.1" cy="364.2" r="0.62" fill="#222"/>
<circle cx="93.6" cy="354.4" r="0.31" fill="#444"/>
<circle cx="103.9" cy="351.8" r="0.36" fill="#666"/>
<circle cx="111.0" cy="376.6" r="0.68" fill="#222"/>
<circle cx="108.2" cy="357.3" r="0.66" fill="#444"/>
<circle cx="101.4" cy="363.1" r="0.48" fill="#222"/>
<circle cx="87.7" cy="369.7" r="0.41" fill="#444"/>
<circle cx="106.8" cy="357.4" r="0.43" fill="#444"/>
<circle cx="111.6" cy="361.2" r="0.57" fill="#222"/>
<circle cx="94.8" cy="373.8" r="0.33" fill="#666"/>
<circle cx="86.1" cy="363.8" r="0.50" fill="#444"/>
<circle cx="96.5" cy="359.8" r="0.63" fill="#444"/>
<circle cx="96.7" cy="378.5" r="0.41" fill="#666"/>
<circle cx="108.8" cy="366.4" r="0.47" fill="#222"/>
<circle cx="89.0" cy="359.0" r="0.40" fill="#222"/>
<circle cx="110.3" cy="377.2" r="0.54" fill="#888"/>
<circle cx="89.2" cy="359.8" r="0.36" fill="#444"/>
<circle cx="94.1" cy="361.7" r="0.47" fill="#444"/>
<circle cx="108.0" cy="364.9" r="0.43" fill="#222"/>
<circle cx="107.3" cy="374.2" r="0.33" fill="#888"/>
<circle cx="104.0" cy="357.0" r="0.53" fill="#444"/>
<circle cx="112.2" cy="352.7" r="0.41" fill="#888"/>
<circle cx="110.9" cy="371.1" r="0.63" fill="#222"/>
<circle cx="105.6" cy="362.5" r="0.60" fill="#444"/>
<circle cx="109.3" cy="357.3" r="0.51" fill="#666"/>
<circle cx="106.6" cy="352.6" r="0.51" fill="#222"/>
<circle cx="91.1" cy="368.8" r="0.51" fill="#666"/>
<circle cx="114.9" cy="355.5" r="0.38" fill="#222"/>
<circle cx="95.1" cy="360.5" r="0.45" fill="#666"/>
<circle cx="95.5" cy="356.8" r="0.68" fill="#666"/>
<circle cx="100.0" cy="361.0" r="0.60" fill="#999"/>
<circle cx="98.9" cy="358.1" r="0.43" fill="#222"/>
<circle cx="93.0" cy="368.2" r="0.60" fill="#444"/>
<circle cx="92.9" cy="367.0" r="0.69" fill="#888"/>
<circle cx="115.7" cy="373.5" r="0.52" fill="#888"/>
<circle cx="117.1" cy="361.3" r="0.39" fill="#666"/>
<circle cx="93.6" cy="372.9" r="0.45" fill="#444"/>
<circle cx="92.2" cy="353.2" r="0.35" fill="#999"/>
<circle cx="108.8" cy="372.9" r="0.47" fill="#222"/>
<circle cx="91.2" cy="367.1" r="0.43" fill="#999"/>
<circle cx="93.5" cy="375.8" r="0.47" fill="#444"/>
<circle cx="107.1" cy="352.4" r="0.57" fill="#444"/>
<circle cx="97.6" cy="368.5" r="0.55" fill="#666"/>
<circle cx="108.7" cy="353.7" r="0.55" fill="#999"/>
<circle cx="109.1" cy="363.5" r="0.61" fill="#666"/>
<circle cx="98.1" cy="359.7" r="0.33" fill="#888"/>
<circle cx="111.0" cy="352.6" r="0.54" fill="#444"/>
<circle cx="112.1" cy="357.4" r="0.46" fill="#999"/>
<circle cx="101.4" cy="369.3" r="0.30" fill="#444"/>
<circle cx="109.0" cy="369.2" r="0.37" fill="#444"/>
<circle cx="100.7" cy="378.7" r="0.69" fill="#222"/>
<circle cx="106.6" cy="365.7" r="0.34" fill="#444"/>
<circle cx="107.6" cy="372.6" r="0.51" fill="#666"/>
<circle cx="98.3" cy="378.7" r="0.65" fill="#666"/>
<circle cx="106.5" cy="366.6" r="0.36" fill="#222"/>
<circle cx="105.4" cy="366.5" r="0.69" fill="#444"/>
<circle cx="105.6" cy="351.5" r="0.44" fill="#888"/>
<circle cx="110.0" cy="374.9" r="0.70" fill="#222"/>
<circle cx="102.1" cy="350.0" r="0.47" fill="#666"/>
<circle cx="100.4" cy="357.3" r="0.62" fill="#888"/>
<circle cx="112.4" cy="372.0" r="0.38" fill="#888"/>
<circle cx="106.8" cy="351.3" r="0.39" fill="#222"/>
<circle cx="107.1" cy="355.0" r="0.47" fill="#222"/>
<circle cx="106.4" cy="376.7" r="0.34" fill="#888"/>
<circle cx="102.5" cy="373.3" r="0.47" fill="#999"/>
<circle cx="100.1" cy="368.4" r="0.39" fill="#222"/>
<circle cx="103.6" cy="373.7" r="0.56" fill="#888"/>
<circle cx="90.3" cy="354.8" r="0.38" fill="#666"/>
<circle cx="117.5" cy="364.5" r="0.35" fill="#222"/>
<circle cx="104.1" cy="379.2" r="0.63" fill="#666"/>
<circle cx="92.6" cy="372.2" r="0.42" fill="#999"/>
<circle cx="98.5" cy="373.1" r="0.43" fill="#444"/>
<circle cx="111.2" cy="377.8" r="0.65" fill="#888"/>
<circle cx="111.1" cy="366.7" r="0.61" fill="#999"/>
<circle cx="111.3" cy="355.1" r="0.49" fill="#666"/>
<circle cx="102.8" cy="359.7" r="0.33" fill="#888"/>
<circle cx="98.1" cy="366.6" r="0.62" fill="#999"/>
<circle cx="103.6" cy="374.1" r="0.49" fill="#888"/>
<circle cx="103.3" cy="355.1" r="0.48" fill="#666"/>
<circle cx="98.1" cy="361.4" r="0.48" fill="#666"/>
<circle cx="112.2" cy="376.2" r="0.68" fill="#999"/>
<circle cx="109.7" cy="373.1" r="0.55" fill="#666"/>
<circle cx="93.7" cy="352.4" r="0.56" fill="#666"/>
<circle cx="97.6" cy="366.8" r="0.46" fill="#222"/>
<circle cx="99.0" cy="351.3" r="0.31" fill="#444"/>
<circle cx="88.6" cy="362.4" r="0.43" fill="#999"/>
<circle cx="93.7" cy="358.7" r="0.40" fill="#888"/>
<circle cx="103.0" cy="354.4" r="0.44" fill="#222"/>
<circle cx="110.6" cy="358.0" r="0.52" fill="#222"/>
<circle cx="101.2" cy="379.0" r="0.66" fill="#888"/>
<circle cx="86.2" cy="367.7" r="0.54" fill="#666"/>
<circle cx="102.6" cy="354.8" r="0.38" fill="#444"/>
<circle cx="101.9" cy="349.4" r="0.50" fill="#999"/>
<circle cx="97.7" cy="371.9" r="0.40" fill="#888"/>
<circle cx="107.3" cy="352.5" r="0.69" fill="#999"/>
<circle cx="99.1" cy="371.1" r="0.60" fill="#666"/>
<circle cx="96.5" cy="352.9" r="0.32" fill="#222"/>
<circle cx="110.1" cy="355.6" r="0.30" fill="#666"/>
<circle cx="89.8" cy="355.4" r="0.68" fill="#666"/>
<circle cx="103.3" cy="374.1" r="0.65" fill="#666"/>
<circle cx="97.9" cy="377.2" r="0.46" fill="#666"/>
<circle cx="108.0" cy="370.0" r="0.66" fill="#888"/>
<circle cx="102.6" cy="350.7" r="0.53" fill="#444"/>
<circle cx="107.4" cy="353.0" r="0.32" fill="#444"/>
<circle cx="102.4" cy="350.3" r="0.40" fill="#666"/>
<circle cx="91.0" cy="375.2" r="0.35" fill="#999"/>
<circle cx="98.9" cy="352.0" r="0.32" fill="#444"/>
<circle cx="110.8" cy="352.5" r="0.36" fill="#999"/>
<circle cx="99.9" cy="362.1" r="0.65" fill="#999"/>
<circle cx="117.8" cy="362.9" r="0.49" fill="#888"/>
<circle cx="105.1" cy="350.1" r="0.39" fill="#666"/>
<circle cx="99.3" cy="368.2" r="0.35" fill="#222"/>
<circle cx="104.1" cy="363.5" r="0.45" fill="#999"/>
<path d="M82.4,361.0 A20.0,20.0 0 0 0 106.0,384.6" fill="none" stroke="#222" stroke-width="2.2" opacity="0.8"/>
<text x="153.6" y="226.5" font-size="25.5" font-weight="bold" text-anchor="start">D</text>
<line x1="197.4" y1="238.5" x2="197.4" y2="338.1" stroke="#000" stroke-width="2"/>
<line x1="196.4" y1="337.1" x2="259.8" y2="337.1" stroke="#000" stroke-width="2"/>
<text x="193.3" y="344.6" font-size="13" text-anchor="end">0</text>
<text x="194.0" y="318.6" font-size="13" text-anchor="end">1</text>
<text x="194.0" y="294.50000000000006" font-size="13" text-anchor="end">2</text>
<text x="194.0" y="270.40000000000003" font-size="13" text-anchor="end">3</text>
<text x="194.0" y="246.3" font-size="13" text-anchor="end">4</text>
<text transform="translate(180.4,288.9) rotate(-90)" font-size="13" text-anchor="middle" textLength="112" lengthAdjust="spacingAndGlyphs">Cell Number (x10<tspan font-size="9" dy="-5">6</tspan><tspan dy="5">)</tspan></text>
<rect x="208.6" y="269.5" width="9.3" height="67.60000000000002" fill="#000"/>
<line x1="213.3" y1="269.5" x2="213.3" y2="251.6" stroke="#000" stroke-width="1.7"/>
<line x1="211.10000000000002" y1="251.6" x2="215.5" y2="251.6" stroke="#000" stroke-width="1.7"/>
<rect x="220.3" y="261" width="7.2" height="76.10000000000002" fill="#fff" stroke="#000" stroke-width="2.2"/>
<line x1="223.9" y1="262.5" x2="223.9" y2="336" stroke="#000" stroke-width="1.7" stroke-dasharray="1.6,1.5"/>
<line x1="223.9" y1="260" x2="223.9" y2="248.4" stroke="#000" stroke-width="1.7"/>
<line x1="221.70000000000002" y1="248.4" x2="226.1" y2="248.4" stroke="#000" stroke-width="1.7"/>
<line x1="198.5" y1="327.2" x2="262" y2="327.2" stroke="#000" stroke-width="1.8" stroke-dasharray="1.9,2.2"/>
<rect x="245.8" y="238.7" width="7.6" height="7.8" fill="#fff" stroke="#000" stroke-width="2.4"/>
<rect x="244.6" y="250.9" width="9.9" height="9.2" fill="#000"/>
<rect x="244.6" y="263.4" width="9.9" height="9.7" fill="#000"/>
<path d="M252.2,265.6 C248.5,264.6 246.2,266.6 249,268.2 C251.6,269.6 250.2,271.6 246.6,270.9" stroke="#fff" stroke-width="2" fill="none"/>
<text x="257.4" y="246.9" font-size="12.2" text-anchor="start" textLength="32.8" lengthAdjust="spacingAndGlyphs">410.4</text>
<text x="257.7" y="260.8" font-size="12.8" text-anchor="start" textLength="30.6" lengthAdjust="spacingAndGlyphs">T47D</text>
<text x="257.3" y="273.2" font-size="12" text-anchor="start" textLength="35.2" lengthAdjust="spacingAndGlyphs">MCF7</text>
<text transform="translate(205.2,355.4) rotate(-48)" font-size="12.2" font-weight="bold" text-anchor="middle" dy="4.3">HOX</text>
<text transform="translate(229.0,359.4) rotate(-48)" font-size="12.2" font-weight="bold" text-anchor="middle" dy="4.3">HDFTr</text>
<line x1="192.8" y1="383.5" x2="192.8" y2="488.6" stroke="#000" stroke-width="2"/>
<line x1="191.8" y1="487.7" x2="287.5" y2="487.7" stroke="#000" stroke-width="2"/>
<text x="190.29999999999998" y="493.70000000000005" font-size="13" text-anchor="end">0</text>
<text x="190.6" y="466.90000000000003" font-size="13" text-anchor="end">2</text>
<text x="190.6" y="441.70000000000005" font-size="13" text-anchor="end">4</text>
<text x="190.6" y="416.5" font-size="13" text-anchor="end">6</text>
<text x="190.6" y="391.3" font-size="13" text-anchor="end">8</text>
<text transform="translate(176,441.3) rotate(-90)" font-size="13.2" text-anchor="middle" textLength="112.5" lengthAdjust="spacingAndGlyphs">Cell Number (x10<tspan font-size="9" dy="-5">5</tspan><tspan dy="5">)</tspan></text>
<rect x="199.3" y="402.3" width="7.2" height="85.30000000000001" fill="#000"/>
<line x1="202.9" y1="402.3" x2="202.9" y2="385.2" stroke="#000" stroke-width="1.3"/>
<line x1="201.4" y1="385.2" x2="204.4" y2="385.2" stroke="#000" stroke-width="1.3"/>
<rect x="207.2" y="472.2" width="4.6" height="15.400000000000034" fill="url(#hatch2)" stroke="#000" stroke-width="1.4"/>
<line x1="209.5" y1="472.2" x2="209.5" y2="467.3" stroke="#000" stroke-width="1.3"/>
<line x1="208.25" y1="467.3" x2="210.75" y2="467.3" stroke="#000" stroke-width="1.3"/>
<rect x="213.6" y="462.6" width="4.4" height="25.0" fill="#fff" stroke="#000" stroke-width="1.4"/>
<line x1="215.8" y1="462.6" x2="215.8" y2="460.6" stroke="#000" stroke-width="1.3"/>
<line x1="214.3" y1="460.6" x2="217.3" y2="460.6" stroke="#000" stroke-width="1.3"/>
<rect x="230.3" y="480.6" width="6.0" height="7.0" fill="#000"/>
<rect x="237.0" y="482.0" width="5.0" height="5.600000000000023" fill="url(#hatch2)" stroke="#000" stroke-width="1.4"/>
<line x1="239.5" y1="482" x2="239.5" y2="478.8" stroke="#000" stroke-width="1.2"/>
<line x1="238.25" y1="478.8" x2="240.75" y2="478.8" stroke="#000" stroke-width="1.2"/>
<rect x="244.6" y="481.2" width="4.0" height="6.400000000000034" fill="#fff" stroke="#000" stroke-width="1.4"/>
<line x1="246.6" y1="481.2" x2="246.6" y2="476.4" stroke="#000" stroke-width="1.2"/>
<line x1="245.35" y1="476.4" x2="247.85" y2="476.4" stroke="#000" stroke-width="1.2"/>
<rect x="262.6" y="481.0" width="5.6" height="6.600000000000023" fill="#000"/>
<line x1="265.4" y1="481" x2="265.4" y2="476.1" stroke="#000" stroke-width="1.2"/>
<line x1="264.15" y1="476.1" x2="266.65" y2="476.1" stroke="#000" stroke-width="1.2"/>
<rect x="268.9" y="483.6" width="4.2" height="4.0" fill="url(#hatch2)" stroke="#000" stroke-width="1.4"/>
<rect x="275.8" y="480.4" width="4.2" height="7.2000000000000455" fill="#fff" stroke="#000" stroke-width="1.4"/>
<line x1="277.9" y1="480.4" x2="277.9" y2="478.0" stroke="#000" stroke-width="1.2"/>
<line x1="276.65" y1="478.0" x2="279.15" y2="478.0" stroke="#000" stroke-width="1.2"/>
<line x1="196" y1="462.2" x2="287" y2="462.2" stroke="#000" stroke-width="1.8" stroke-dasharray="1.9,2.2"/>
<rect x="230" y="384.9" width="6.1" height="6.5" fill="#fff" stroke="#000" stroke-width="2"/>
<rect x="229" y="396.8" width="8.2" height="10.5" fill="#000"/>
<rect x="230" y="412.3" width="6.1" height="8.5" fill="#fff" stroke="#000" stroke-width="2"/>
<text x="241.2" y="391.8" font-size="12.2" text-anchor="start" textLength="32.8" lengthAdjust="spacingAndGlyphs">410.4</text>
<text x="241.3" y="407.4" font-size="12.2" text-anchor="start" textLength="32.2" lengthAdjust="spacingAndGlyphs">T47D</text>
<text x="241.3" y="423.0" font-size="12.2" text-anchor="start" textLength="32.2" lengthAdjust="spacingAndGlyphs">T47D</text>
<text x="242" y="439.8" font-size="12" text-anchor="start" textLength="40.3" lengthAdjust="spacingAndGlyphs">(MUC1</text>
<text x="238.7" y="455.5" font-size="12" text-anchor="start" textLength="53.2" lengthAdjust="spacingAndGlyphs">depleted)</text>
<text transform="translate(201.4,506.2) rotate(-48)" font-size="12.2" font-weight="bold" text-anchor="middle" dy="4.3">HOX</text>
<text transform="translate(235.5,506.8) rotate(-48)" font-size="12.2" font-weight="bold" text-anchor="middle" dy="4.3">DOX</text>
<text transform="translate(267.3,510.8) rotate(-48)" font-size="12.2" font-weight="bold" text-anchor="middle" dy="4.3">HDFTr</text>
<text x="316.3" y="226.9" font-size="25.5" font-weight="bold" text-anchor="start">E</text>
<text x="397.5" y="245.8" font-size="15.6" font-weight="bold" text-anchor="start" textLength="36.4" lengthAdjust="spacingAndGlyphs">T47D</text>
<line x1="355.0" y1="258.5" x2="355.0" y2="349.0" stroke="#000" stroke-width="2"/>
<line x1="354.0" y1="348.0" x2="473.7" y2="348.0" stroke="#000" stroke-width="2"/>
<text x="353.2" y="266.1" font-size="12.3" text-anchor="end" textLength="21.3" lengthAdjust="spacingAndGlyphs">100</text>
<text x="353.2" y="283.38" font-size="12.3" text-anchor="end" textLength="14.2" lengthAdjust="spacingAndGlyphs">80</text>
<text x="353.2" y="300.66" font-size="12.3" text-anchor="end" textLength="14.2" lengthAdjust="spacingAndGlyphs">60</text>
<text x="353.2" y="317.94" font-size="12.3" text-anchor="end" textLength="14.2" lengthAdjust="spacingAndGlyphs">40</text>
<text x="353.2" y="335.22" font-size="12.3" text-anchor="end" textLength="14.2" lengthAdjust="spacingAndGlyphs">20</text>
<text x="350.0" y="352.5" font-size="12.3" text-anchor="end" textLength="7.1" lengthAdjust="spacingAndGlyphs">0</text>
<text x="357.0" y="363.2" font-size="12.3" text-anchor="middle" textLength="20.2" lengthAdjust="spacingAndGlyphs">100</text>
<text x="384.4" y="363.2" font-size="12.3" text-anchor="middle" textLength="13.4" lengthAdjust="spacingAndGlyphs">33</text>
<text x="406.8" y="363.2" font-size="12.3" text-anchor="middle" textLength="13.8" lengthAdjust="spacingAndGlyphs">11</text>
<text x="429.8" y="363.2" font-size="12.3" text-anchor="middle" textLength="6.8" lengthAdjust="spacingAndGlyphs">3</text>
<text x="454.0" y="363.2" font-size="12.3" text-anchor="middle" textLength="6.0" lengthAdjust="spacingAndGlyphs">1</text>
<text x="478.3" y="363.2" font-size="12.3" text-anchor="middle" textLength="16.6" lengthAdjust="spacingAndGlyphs">0.3</text>
<polyline points="356.40,336.94 380.00,326.92 402.80,348.00 427.00,348.00 450.40,348.00 473.70,348.00" fill="none" stroke="#000" stroke-width="1.8" stroke-linejoin="round"/>
<polyline points="356.40,296.59 380.00,269.03 402.80,313.01 427.00,321.65 450.40,338.50 473.70,340.22" fill="none" stroke="#000" stroke-width="1.8" stroke-linejoin="round"/>
<polyline points="356.40,299.01 380.00,284.76 402.80,324.24 427.00,331.15 450.40,338.93 473.70,345.84" fill="none" stroke="#000" stroke-width="2.4" stroke-linejoin="round"/>
<polyline points="356.40,261.60 380.00,288.04 402.80,326.40 427.00,331.58 450.40,338.06 473.70,348.00" fill="none" stroke="#000" stroke-width="1.8" stroke-linejoin="round"/>
<circle cx="356.40" cy="336.94" r="2.9" fill="#fff" stroke="#000" stroke-width="1.5"/>
<circle cx="380.00" cy="326.92" r="2.9" fill="#fff" stroke="#000" stroke-width="1.5"/>
<circle cx="402.80" cy="348.00" r="2.9" fill="#fff" stroke="#000" stroke-width="1.5"/>
<circle cx="427.00" cy="348.00" r="2.9" fill="#fff" stroke="#000" stroke-width="1.5"/>
<circle cx="450.40" cy="348.00" r="2.9" fill="#fff" stroke="#000" stroke-width="1.5"/>
<circle cx="473.70" cy="348.00" r="2.9" fill="#fff" stroke="#000" stroke-width="1.5"/>
<path d="M356.40,292.87 L360.20,299.07 L352.60,299.07 Z" fill="#000" stroke="#000" stroke-width="1" stroke-linejoin="miter"/>
<path d="M380.00,265.31 L383.80,271.51 L376.20,271.51 Z" fill="#000" stroke="#000" stroke-width="1" stroke-linejoin="miter"/>
<path d="M402.80,309.29 L406.60,315.49 L399.00,315.49 Z" fill="#000" stroke="#000" stroke-width="1" stroke-linejoin="miter"/>
<path d="M427.00,317.93 L430.80,324.13 L423.20,324.13 Z" fill="#000" stroke="#000" stroke-width="1" stroke-linejoin="miter"/>
<path d="M450.40,334.78 L454.20,340.98 L446.60,340.98 Z" fill="#000" stroke="#000" stroke-width="1" stroke-linejoin="miter"/>
<path d="M473.70,336.50 L477.50,342.70 L469.90,342.70 Z" fill="#000" stroke="#000" stroke-width="1" stroke-linejoin="miter"/>
<rect x="353.00" y="295.61" width="6.8" height="6.8" fill="#000" stroke="#000" stroke-width="1.6"/>
<rect x="376.60" y="281.36" width="6.8" height="6.8" fill="#000" stroke="#000" stroke-width="1.6"/>
<rect x="399.40" y="320.84" width="6.8" height="6.8" fill="#000" stroke="#000" stroke-width="1.6"/>
<rect x="423.60" y="327.75" width="6.8" height="6.8" fill="#000" stroke="#000" stroke-width="1.6"/>
<rect x="447.00" y="335.53" width="6.8" height="6.8" fill="#000" stroke="#000" stroke-width="1.6"/>
<rect x="470.30" y="342.44" width="6.8" height="6.8" fill="#000" stroke="#000" stroke-width="1.6"/>
<rect x="353.20" y="258.40" width="6.4" height="6.4" fill="#fff" stroke="#000" stroke-width="1.6"/>
<rect x="376.80" y="284.84" width="6.4" height="6.4" fill="#fff" stroke="#000" stroke-width="1.6"/>
<rect x="399.60" y="323.20" width="6.4" height="6.4" fill="#fff" stroke="#000" stroke-width="1.6"/>
<rect x="423.80" y="328.38" width="6.4" height="6.4" fill="#fff" stroke="#000" stroke-width="1.6"/>
<rect x="447.20" y="334.86" width="6.4" height="6.4" fill="#fff" stroke="#000" stroke-width="1.6"/>
<rect x="470.50" y="344.80" width="6.4" height="6.4" fill="#fff" stroke="#000" stroke-width="1.6"/>
<text transform="translate(329.2,342.9) rotate(-90)" font-size="13" font-weight="bold" text-anchor="middle" textLength="89.4" lengthAdjust="spacingAndGlyphs">% Cytotoxicity</text>
<text x="405" y="389" font-size="12.5" font-weight="bold" text-anchor="start" textLength="32.3" lengthAdjust="spacingAndGlyphs">410.4</text>
<line x1="355.6" y1="402.3" x2="355.6" y2="486.5" stroke="#000" stroke-width="2"/>
<text x="353.2" y="410.29999999999995" font-size="12.3" text-anchor="end" textLength="20.2" lengthAdjust="spacingAndGlyphs">100</text>
<text x="353.2" y="426.59999999999997" font-size="12.3" text-anchor="end" textLength="13.8" lengthAdjust="spacingAndGlyphs">80</text>
<text x="353.2" y="442.9" font-size="12.3" text-anchor="end" textLength="13.8" lengthAdjust="spacingAndGlyphs">60</text>
<text x="353.2" y="459.2" font-size="12.3" text-anchor="end" textLength="13.8" lengthAdjust="spacingAndGlyphs">40</text>
<text x="353.2" y="475.5" font-size="12.3" text-anchor="end" textLength="13.8" lengthAdjust="spacingAndGlyphs">20</text>
<text x="350.7" y="491.79999999999995" font-size="12.3" text-anchor="end" textLength="6.5" lengthAdjust="spacingAndGlyphs">0</text>
<text x="363.8" y="502.7" font-size="12.3" text-anchor="middle" textLength="21.2" lengthAdjust="spacingAndGlyphs">100</text>
<text x="385.5" y="502.7" font-size="12.3" text-anchor="middle" textLength="15.5" lengthAdjust="spacingAndGlyphs">33</text>
<text x="407.7" y="502.7" font-size="12.3" text-anchor="middle" textLength="11.2" lengthAdjust="spacingAndGlyphs">11</text>
<text x="427.6" y="502.7" font-size="12.3" text-anchor="middle" textLength="7.6" lengthAdjust="spacingAndGlyphs">3</text>
<text x="449.6" y="502.7" font-size="12.3" text-anchor="middle" textLength="5.5" lengthAdjust="spacingAndGlyphs">1</text>
<text x="475.1" y="502.7" font-size="12.3" text-anchor="middle" textLength="16.1" lengthAdjust="spacingAndGlyphs">0.3</text>
<polyline points="358.20,486.00 380.80,486.00 402.60,486.00 425.00,486.00 448.20,482.36 470.20,486.00" fill="none" stroke="#000" stroke-width="1.8" stroke-linejoin="round"/>
<polyline points="358.20,486.00 380.80,486.00 402.60,486.00 425.00,486.00 448.20,486.00 470.20,486.00" fill="none" stroke="#000" stroke-width="2.2" stroke-linejoin="round"/>
<rect x="444.80" y="477.90" width="6.8" height="6.8" fill="#fff" stroke="#000" stroke-width="1.6"/>
<rect x="353.60" y="482.00" width="9.4" height="7.2" fill="#000"/>
<rect x="376.20" y="482.00" width="9.4" height="7.2" fill="#000"/>
<rect x="398.00" y="482.00" width="9.4" height="7.2" fill="#000"/>
<rect x="420.40" y="482.00" width="9.4" height="7.2" fill="#000"/>
<rect x="443.60" y="482.00" width="9.4" height="7.2" fill="#000"/>
<rect x="465.60" y="482.00" width="9.4" height="7.2" fill="#000"/>
<text x="369.8" y="518.7" font-size="13" font-weight="bold" text-anchor="start" textLength="130.2" lengthAdjust="spacingAndGlyphs">Effector-Target Ratio</text>
<line x1="445.2" y1="403.0" x2="459.4" y2="403.0" stroke="#000" stroke-width="1.8"/>
<circle cx="452.30" cy="403.00" r="3.1" fill="#fff" stroke="#000" stroke-width="1.5"/>
<text x="465.2" y="407.9" font-size="13.8" font-weight="bold" text-anchor="start" textLength="45.8" lengthAdjust="spacingAndGlyphs">HDFTr</text>
<line x1="445.2" y1="419.2" x2="459.4" y2="419.2" stroke="#000" stroke-width="1.8"/>
<rect x="448.50" y="415.40" width="7.6" height="7.6" fill="#000" stroke="#000" stroke-width="1.6"/>
<text x="465.2" y="424.09999999999997" font-size="13.8" font-weight="bold" text-anchor="start" textLength="54" lengthAdjust="spacingAndGlyphs">HDF28z</text>
<line x1="445.2" y1="434.2" x2="459.4" y2="434.2" stroke="#000" stroke-width="1.8"/>
<rect x="449.10" y="431.00" width="6.4" height="6.4" fill="#fff" stroke="#000" stroke-width="1.6"/>
<text x="465.2" y="439.09999999999997" font-size="13.8" font-weight="bold" text-anchor="start" textLength="33.2" lengthAdjust="spacingAndGlyphs">HOX</text>
<line x1="445.2" y1="449.6" x2="459.4" y2="449.6" stroke="#000" stroke-width="1.8"/>
<path d="M452.30,444.98 L456.40,452.18 L448.20,452.18 Z" fill="#000" stroke="#000" stroke-width="1" stroke-linejoin="miter"/>
<text x="465.2" y="454.5" font-size="13.8" font-weight="bold" text-anchor="start" textLength="31.6" lengthAdjust="spacingAndGlyphs">HBB</text>
</svg>
</body></html>
